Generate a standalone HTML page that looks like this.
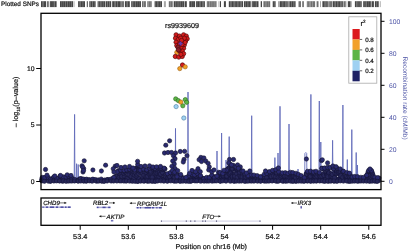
<!DOCTYPE html>
<html><head><meta charset="utf-8"><style>
html,body{margin:0;padding:0;background:#fff;width:410px;height:251px;overflow:hidden}
svg{display:block;will-change:transform}
text{text-rendering:geometricPrecision;stroke:#111;stroke-width:.2}
text.bl{stroke:none}
circle{stroke-width:.5}
.n{fill:#2a2a70;stroke:#15152e;stroke-width:.6}
.k{fill:#272758;stroke:#15153a;stroke-width:.6}
.r{fill:#d41c1c;stroke:#5a0808;stroke-width:.7}
.m{fill:#8a1f2a;stroke:#4a0a10;stroke-width:.6}
.o{fill:#f0a028;stroke:#9a5a08;stroke-width:.6}
.g{fill:#5db446;stroke:#2a6a20;stroke-width:.6}
.b{fill:#9fd1f2;stroke:#4a7aa0;stroke-width:.6}
</style></head><body>
<svg width="410" height="251" viewBox="0 0 410 251">
<rect width="410" height="251" fill="#fff"/>
<rect x="41" y="1.2" width="5.00" height="5.9" fill="#454545"/>
<rect x="42.04" y="1.2" width="0.45" height="5.9" fill="#fff" fill-opacity="0.44"/>
<rect x="43.56" y="1.2" width="0.45" height="5.9" fill="#fff" fill-opacity="0.46"/>
<rect x="46.8" y="1.2" width="2.00" height="5.9" fill="#707070"/>
<rect x="49.8" y="1.2" width="6.80" height="5.9" fill="#454545"/>
<rect x="50.67" y="1.2" width="0.45" height="5.9" fill="#fff" fill-opacity="0.25"/>
<rect x="52.84" y="1.2" width="0.45" height="5.9" fill="#fff" fill-opacity="0.34"/>
<rect x="54.17" y="1.2" width="0.45" height="5.9" fill="#fff" fill-opacity="0.60"/>
<rect x="60" y="1.2" width="13.00" height="5.9" fill="#454545"/>
<rect x="61.64" y="1.2" width="0.45" height="5.9" fill="#fff" fill-opacity="0.42"/>
<rect x="63.53" y="1.2" width="0.45" height="5.9" fill="#fff" fill-opacity="0.30"/>
<rect x="65.42" y="1.2" width="0.45" height="5.9" fill="#fff" fill-opacity="0.55"/>
<rect x="67.15" y="1.2" width="0.45" height="5.9" fill="#fff" fill-opacity="0.51"/>
<rect x="69.09" y="1.2" width="0.45" height="5.9" fill="#fff" fill-opacity="0.27"/>
<rect x="71.15" y="1.2" width="0.45" height="5.9" fill="#fff" fill-opacity="0.46"/>
<rect x="73.5" y="1.2" width="1.00" height="5.9" fill="#a8a8a8"/>
<rect x="78" y="1.2" width="7.00" height="5.9" fill="#454545"/>
<rect x="78.83" y="1.2" width="0.45" height="5.9" fill="#fff" fill-opacity="0.55"/>
<rect x="80.49" y="1.2" width="0.45" height="5.9" fill="#fff" fill-opacity="0.50"/>
<rect x="82.72" y="1.2" width="0.45" height="5.9" fill="#fff" fill-opacity="0.50"/>
<rect x="86.8" y="1.2" width="1.00" height="5.9" fill="#454545"/>
<rect x="89.3" y="1.2" width="6.30" height="5.9" fill="#454545"/>
<rect x="90.49" y="1.2" width="0.45" height="5.9" fill="#fff" fill-opacity="0.53"/>
<rect x="92.12" y="1.2" width="0.45" height="5.9" fill="#fff" fill-opacity="0.58"/>
<rect x="94.35" y="1.2" width="0.45" height="5.9" fill="#fff" fill-opacity="0.28"/>
<rect x="97.6" y="1.2" width="7.80" height="5.9" fill="#454545"/>
<rect x="98.62" y="1.2" width="0.45" height="5.9" fill="#fff" fill-opacity="0.59"/>
<rect x="100.23" y="1.2" width="0.45" height="5.9" fill="#fff" fill-opacity="0.47"/>
<rect x="101.65" y="1.2" width="0.45" height="5.9" fill="#fff" fill-opacity="0.43"/>
<rect x="103.19" y="1.2" width="0.45" height="5.9" fill="#fff" fill-opacity="0.37"/>
<rect x="105.9" y="1.2" width="5.30" height="5.9" fill="#454545"/>
<rect x="107.28" y="1.2" width="0.45" height="5.9" fill="#fff" fill-opacity="0.57"/>
<rect x="109.24" y="1.2" width="0.45" height="5.9" fill="#fff" fill-opacity="0.58"/>
<rect x="112.2" y="1.2" width="7.80" height="5.9" fill="#454545"/>
<rect x="113.99" y="1.2" width="0.45" height="5.9" fill="#fff" fill-opacity="0.48"/>
<rect x="115.22" y="1.2" width="0.45" height="5.9" fill="#fff" fill-opacity="0.55"/>
<rect x="117.57" y="1.2" width="0.45" height="5.9" fill="#fff" fill-opacity="0.57"/>
<rect x="120" y="1.2" width="4.00" height="5.9" fill="#707070"/>
<rect x="121.51" y="1.2" width="0.45" height="5.9" fill="#fff" fill-opacity="0.32"/>
<rect x="124.9" y="1.2" width="4.90" height="5.9" fill="#454545"/>
<rect x="126.27" y="1.2" width="0.45" height="5.9" fill="#fff" fill-opacity="0.35"/>
<rect x="127.36" y="1.2" width="0.45" height="5.9" fill="#fff" fill-opacity="0.55"/>
<rect x="131.2" y="1.2" width="9.80" height="5.9" fill="#454545"/>
<rect x="132.09" y="1.2" width="0.45" height="5.9" fill="#fff" fill-opacity="0.53"/>
<rect x="133.66" y="1.2" width="0.45" height="5.9" fill="#fff" fill-opacity="0.30"/>
<rect x="135.07" y="1.2" width="0.45" height="5.9" fill="#fff" fill-opacity="0.52"/>
<rect x="137.30" y="1.2" width="0.45" height="5.9" fill="#fff" fill-opacity="0.27"/>
<rect x="139.16" y="1.2" width="0.45" height="5.9" fill="#fff" fill-opacity="0.27"/>
<rect x="142" y="1.2" width="3.90" height="5.9" fill="#707070"/>
<rect x="143.13" y="1.2" width="0.45" height="5.9" fill="#fff" fill-opacity="0.56"/>
<rect x="147.3" y="1.2" width="4.40" height="5.9" fill="#707070"/>
<rect x="148.61" y="1.2" width="0.45" height="5.9" fill="#fff" fill-opacity="0.60"/>
<rect x="150.04" y="1.2" width="0.45" height="5.9" fill="#fff" fill-opacity="0.28"/>
<rect x="154.6" y="1.2" width="7.40" height="5.9" fill="#454545"/>
<rect x="155.43" y="1.2" width="0.45" height="5.9" fill="#fff" fill-opacity="0.32"/>
<rect x="157.00" y="1.2" width="0.45" height="5.9" fill="#fff" fill-opacity="0.46"/>
<rect x="158.22" y="1.2" width="0.45" height="5.9" fill="#fff" fill-opacity="0.26"/>
<rect x="160.44" y="1.2" width="0.45" height="5.9" fill="#fff" fill-opacity="0.36"/>
<rect x="163.9" y="1.2" width="2.00" height="5.9" fill="#a8a8a8"/>
<rect x="168.8" y="1.2" width="3.90" height="5.9" fill="#707070"/>
<rect x="170.50" y="1.2" width="0.45" height="5.9" fill="#fff" fill-opacity="0.38"/>
<rect x="173.7" y="1.2" width="10.70" height="5.9" fill="#454545"/>
<rect x="175.02" y="1.2" width="0.45" height="5.9" fill="#fff" fill-opacity="0.48"/>
<rect x="176.85" y="1.2" width="0.45" height="5.9" fill="#fff" fill-opacity="0.45"/>
<rect x="178.72" y="1.2" width="0.45" height="5.9" fill="#fff" fill-opacity="0.58"/>
<rect x="180.43" y="1.2" width="0.45" height="5.9" fill="#fff" fill-opacity="0.40"/>
<rect x="182.44" y="1.2" width="0.45" height="5.9" fill="#fff" fill-opacity="0.33"/>
<rect x="184.9" y="1.2" width="1.90" height="5.9" fill="#454545"/>
<rect x="189.3" y="1.2" width="5.80" height="5.9" fill="#454545"/>
<rect x="191.08" y="1.2" width="0.45" height="5.9" fill="#fff" fill-opacity="0.43"/>
<rect x="192.85" y="1.2" width="0.45" height="5.9" fill="#fff" fill-opacity="0.25"/>
<rect x="196.1" y="1.2" width="8.80" height="5.9" fill="#454545"/>
<rect x="197.48" y="1.2" width="0.45" height="5.9" fill="#fff" fill-opacity="0.26"/>
<rect x="199.34" y="1.2" width="0.45" height="5.9" fill="#fff" fill-opacity="0.47"/>
<rect x="200.43" y="1.2" width="0.45" height="5.9" fill="#fff" fill-opacity="0.47"/>
<rect x="202.08" y="1.2" width="0.45" height="5.9" fill="#fff" fill-opacity="0.49"/>
<rect x="203.57" y="1.2" width="0.45" height="5.9" fill="#fff" fill-opacity="0.50"/>
<rect x="206.8" y="1.2" width="9.80" height="5.9" fill="#707070"/>
<rect x="207.62" y="1.2" width="0.45" height="5.9" fill="#fff" fill-opacity="0.27"/>
<rect x="209.57" y="1.2" width="0.45" height="5.9" fill="#fff" fill-opacity="0.59"/>
<rect x="210.92" y="1.2" width="0.45" height="5.9" fill="#fff" fill-opacity="0.41"/>
<rect x="212.75" y="1.2" width="0.45" height="5.9" fill="#fff" fill-opacity="0.36"/>
<rect x="214.26" y="1.2" width="0.45" height="5.9" fill="#fff" fill-opacity="0.36"/>
<rect x="215.78" y="1.2" width="0.45" height="5.9" fill="#fff" fill-opacity="0.46"/>
<rect x="218.5" y="1.2" width="1.00" height="5.9" fill="#a8a8a8"/>
<rect x="220" y="1.2" width="1.00" height="5.9" fill="#454545"/>
<rect x="223.9" y="1.2" width="2.00" height="5.9" fill="#454545"/>
<rect x="228.8" y="1.2" width="14.20" height="5.9" fill="#454545"/>
<rect x="229.98" y="1.2" width="0.45" height="5.9" fill="#fff" fill-opacity="0.52"/>
<rect x="231.01" y="1.2" width="0.45" height="5.9" fill="#fff" fill-opacity="0.45"/>
<rect x="233.04" y="1.2" width="0.45" height="5.9" fill="#fff" fill-opacity="0.36"/>
<rect x="234.36" y="1.2" width="0.45" height="5.9" fill="#fff" fill-opacity="0.53"/>
<rect x="235.69" y="1.2" width="0.45" height="5.9" fill="#fff" fill-opacity="0.32"/>
<rect x="237.30" y="1.2" width="0.45" height="5.9" fill="#fff" fill-opacity="0.49"/>
<rect x="238.44" y="1.2" width="0.45" height="5.9" fill="#fff" fill-opacity="0.36"/>
<rect x="239.91" y="1.2" width="0.45" height="5.9" fill="#fff" fill-opacity="0.54"/>
<rect x="241.52" y="1.2" width="0.45" height="5.9" fill="#fff" fill-opacity="0.55"/>
<rect x="243.9" y="1.2" width="6.80" height="5.9" fill="#454545"/>
<rect x="245.04" y="1.2" width="0.45" height="5.9" fill="#fff" fill-opacity="0.48"/>
<rect x="247.28" y="1.2" width="0.45" height="5.9" fill="#fff" fill-opacity="0.41"/>
<rect x="248.59" y="1.2" width="0.45" height="5.9" fill="#fff" fill-opacity="0.29"/>
<rect x="251.7" y="1.2" width="6.80" height="5.9" fill="#454545"/>
<rect x="252.69" y="1.2" width="0.45" height="5.9" fill="#fff" fill-opacity="0.53"/>
<rect x="254.86" y="1.2" width="0.45" height="5.9" fill="#fff" fill-opacity="0.31"/>
<rect x="256.25" y="1.2" width="0.45" height="5.9" fill="#fff" fill-opacity="0.53"/>
<rect x="260.7" y="1.2" width="1.30" height="5.9" fill="#454545"/>
<rect x="263.4" y="1.2" width="6.80" height="5.9" fill="#707070"/>
<rect x="265.01" y="1.2" width="0.45" height="5.9" fill="#fff" fill-opacity="0.37"/>
<rect x="266.19" y="1.2" width="0.45" height="5.9" fill="#fff" fill-opacity="0.35"/>
<rect x="268.30" y="1.2" width="0.45" height="5.9" fill="#fff" fill-opacity="0.34"/>
<rect x="272.7" y="1.2" width="2.90" height="5.9" fill="#454545"/>
<rect x="273.92" y="1.2" width="0.45" height="5.9" fill="#fff" fill-opacity="0.40"/>
<rect x="278" y="1.2" width="2.00" height="5.9" fill="#a8a8a8"/>
<rect x="280" y="1.2" width="6.80" height="5.9" fill="#454545"/>
<rect x="281.72" y="1.2" width="0.45" height="5.9" fill="#fff" fill-opacity="0.30"/>
<rect x="282.73" y="1.2" width="0.45" height="5.9" fill="#fff" fill-opacity="0.58"/>
<rect x="284.96" y="1.2" width="0.45" height="5.9" fill="#fff" fill-opacity="0.60"/>
<rect x="286.8" y="1.2" width="3.00" height="5.9" fill="#707070"/>
<rect x="288.55" y="1.2" width="0.45" height="5.9" fill="#fff" fill-opacity="0.57"/>
<rect x="289.8" y="1.2" width="5.80" height="5.9" fill="#454545"/>
<rect x="291.35" y="1.2" width="0.45" height="5.9" fill="#fff" fill-opacity="0.54"/>
<rect x="293.27" y="1.2" width="0.45" height="5.9" fill="#fff" fill-opacity="0.43"/>
<rect x="294.68" y="1.2" width="0.45" height="5.9" fill="#fff" fill-opacity="0.37"/>
<rect x="298.5" y="1.2" width="2.50" height="5.9" fill="#707070"/>
<rect x="302.2" y="1.2" width="1.70" height="5.9" fill="#707070"/>
<rect x="306.8" y="1.2" width="8.30" height="5.9" fill="#707070"/>
<rect x="307.67" y="1.2" width="0.45" height="5.9" fill="#fff" fill-opacity="0.46"/>
<rect x="309.07" y="1.2" width="0.45" height="5.9" fill="#fff" fill-opacity="0.53"/>
<rect x="310.13" y="1.2" width="0.45" height="5.9" fill="#fff" fill-opacity="0.57"/>
<rect x="312.10" y="1.2" width="0.45" height="5.9" fill="#fff" fill-opacity="0.57"/>
<rect x="316.6" y="1.2" width="1.90" height="5.9" fill="#707070"/>
<rect x="320" y="1.2" width="1.00" height="5.9" fill="#a8a8a8"/>
<rect x="322.4" y="1.2" width="5.40" height="5.9" fill="#454545"/>
<rect x="324.10" y="1.2" width="0.45" height="5.9" fill="#fff" fill-opacity="0.45"/>
<rect x="325.12" y="1.2" width="0.45" height="5.9" fill="#fff" fill-opacity="0.51"/>
<rect x="326.36" y="1.2" width="0.45" height="5.9" fill="#fff" fill-opacity="0.35"/>
<rect x="328.3" y="1.2" width="3.90" height="5.9" fill="#707070"/>
<rect x="329.62" y="1.2" width="0.45" height="5.9" fill="#fff" fill-opacity="0.39"/>
<rect x="332.7" y="1.2" width="10.20" height="5.9" fill="#454545"/>
<rect x="334.11" y="1.2" width="0.45" height="5.9" fill="#fff" fill-opacity="0.37"/>
<rect x="335.47" y="1.2" width="0.45" height="5.9" fill="#fff" fill-opacity="0.55"/>
<rect x="337.13" y="1.2" width="0.45" height="5.9" fill="#fff" fill-opacity="0.52"/>
<rect x="338.63" y="1.2" width="0.45" height="5.9" fill="#fff" fill-opacity="0.32"/>
<rect x="340.37" y="1.2" width="0.45" height="5.9" fill="#fff" fill-opacity="0.54"/>
<rect x="341.61" y="1.2" width="0.45" height="5.9" fill="#fff" fill-opacity="0.53"/>
<rect x="343.4" y="1.2" width="2.90" height="5.9" fill="#707070"/>
<rect x="345.01" y="1.2" width="0.45" height="5.9" fill="#fff" fill-opacity="0.54"/>
<rect x="347.8" y="1.2" width="2.40" height="5.9" fill="#454545"/>
<rect x="350.2" y="1.2" width="1.30" height="5.9" fill="#707070"/>
<rect x="354.9" y="1.2" width="6.80" height="5.9" fill="#454545"/>
<rect x="356.33" y="1.2" width="0.45" height="5.9" fill="#fff" fill-opacity="0.55"/>
<rect x="357.40" y="1.2" width="0.45" height="5.9" fill="#fff" fill-opacity="0.34"/>
<rect x="358.77" y="1.2" width="0.45" height="5.9" fill="#fff" fill-opacity="0.43"/>
<rect x="360.37" y="1.2" width="0.45" height="5.9" fill="#fff" fill-opacity="0.42"/>
<rect x="363.2" y="1.2" width="7.80" height="5.9" fill="#454545"/>
<rect x="364.00" y="1.2" width="0.45" height="5.9" fill="#fff" fill-opacity="0.27"/>
<rect x="365.18" y="1.2" width="0.45" height="5.9" fill="#fff" fill-opacity="0.29"/>
<rect x="366.28" y="1.2" width="0.45" height="5.9" fill="#fff" fill-opacity="0.59"/>
<rect x="368.47" y="1.2" width="0.45" height="5.9" fill="#fff" fill-opacity="0.28"/>
<rect x="370.17" y="1.2" width="0.45" height="5.9" fill="#fff" fill-opacity="0.36"/>
<rect x="371.5" y="1.2" width="2.40" height="5.9" fill="#454545"/>
<rect x="374.9" y="1.2" width="3.90" height="5.9" fill="#454545"/>
<rect x="376.05" y="1.2" width="0.45" height="5.9" fill="#fff" fill-opacity="0.48"/>
<rect x="377.87" y="1.2" width="0.45" height="5.9" fill="#fff" fill-opacity="0.38"/>
<rect x="379.8" y="1.2" width="0.90" height="5.9" fill="#a8a8a8"/>
<text x="1" y="6.4" font-size="6.4" font-family="Liberation Sans, sans-serif" fill="#111">Plotted SNPs</text>
<polyline fill="none" stroke="#5f69b8" stroke-width="0.9" stroke-opacity="0.95" points="41.0,179.5 74.2,179.5 74.6,114.4 74.9,179.5 76.2,179.5 76.6,163.7 76.9,179.5 77.9,179.5 78.2,164.5 78.5,179.5 175.2,179.5 175.5,128.4 175.8,179.5 187.7,179.5 188.0,92.0 188.3,179.5 216.7,179.5 217.0,151.0 217.3,179.5 221.2,179.5 221.6,133.0 221.9,179.5 225.7,179.5 226.0,160.0 226.3,179.5 228.8,179.5 229.2,136.6 229.5,179.5 251.3,179.5 251.7,115.7 252.0,179.5 274.5,179.5 274.9,157.6 275.2,179.5 277.6,179.5 278.0,153.0 278.4,179.5 279.6,179.5 280.0,106.3 280.4,179.5 288.6,179.5 289.0,124.0 289.4,179.5 297.6,179.5 298.0,169.0 298.4,179.5 304.7,179.5 304.9,153.5 305.8,152.5 306.7,153.5 306.9,179.5 310.5,179.5 310.9,94.4 311.2,179.5 318.9,179.5 319.3,101.0 319.7,179.5 320.4,179.5 320.8,142.0 321.2,179.5 332.2,179.5 332.6,140.3 333.0,179.5 342.5,179.5 342.9,105.0 343.2,179.5 346.9,179.5 347.3,159.5 347.7,179.5 351.4,179.5 351.8,129.6 352.2,179.5 355.8,179.5 356.2,152.5 356.6,179.5 357.0,179.5 357.4,165.0 357.8,179.5 381.0,179.5"/>
<circle class="k" cx="41.9" cy="178.9" r="2.15"/>
<circle class="k" cx="41.8" cy="180.1" r="2.15"/>
<circle class="k" cx="43.8" cy="179.7" r="2.15"/>
<circle class="k" cx="44.0" cy="178.0" r="2.15"/>
<circle class="k" cx="45.6" cy="177.9" r="2.15"/>
<circle class="k" cx="45.2" cy="178.0" r="2.15"/>
<circle class="k" cx="47.8" cy="179.3" r="2.15"/>
<circle class="k" cx="47.1" cy="178.2" r="2.15"/>
<circle class="k" cx="49.6" cy="180.3" r="2.15"/>
<circle class="k" cx="49.0" cy="180.1" r="2.15"/>
<circle class="k" cx="50.3" cy="181.2" r="2.15"/>
<circle class="k" cx="50.5" cy="180.9" r="2.15"/>
<circle class="k" cx="52.0" cy="178.6" r="2.15"/>
<circle class="k" cx="52.9" cy="179.1" r="2.15"/>
<circle class="k" cx="54.3" cy="178.4" r="2.15"/>
<circle class="k" cx="54.0" cy="180.0" r="2.15"/>
<circle class="k" cx="55.4" cy="179.7" r="2.15"/>
<circle class="k" cx="55.5" cy="178.0" r="2.15"/>
<circle class="k" cx="57.5" cy="180.3" r="2.15"/>
<circle class="k" cx="57.7" cy="179.1" r="2.15"/>
<circle class="k" cx="59.1" cy="179.4" r="2.15"/>
<circle class="k" cx="59.5" cy="180.6" r="2.15"/>
<circle class="k" cx="61.1" cy="178.7" r="2.15"/>
<circle class="k" cx="61.5" cy="179.6" r="2.15"/>
<circle class="k" cx="62.4" cy="180.4" r="2.15"/>
<circle class="k" cx="62.2" cy="181.2" r="2.15"/>
<circle class="k" cx="64.7" cy="179.3" r="2.15"/>
<circle class="k" cx="64.4" cy="178.3" r="2.15"/>
<circle class="k" cx="66.3" cy="177.9" r="2.15"/>
<circle class="k" cx="66.2" cy="180.5" r="2.15"/>
<circle class="k" cx="67.6" cy="180.9" r="2.15"/>
<circle class="k" cx="67.9" cy="180.2" r="2.15"/>
<circle class="k" cx="69.4" cy="179.8" r="2.15"/>
<circle class="k" cx="70.0" cy="180.7" r="2.15"/>
<circle class="k" cx="71.4" cy="179.5" r="2.15"/>
<circle class="k" cx="71.4" cy="178.0" r="2.15"/>
<circle class="k" cx="73.5" cy="180.1" r="2.15"/>
<circle class="k" cx="72.6" cy="180.7" r="2.15"/>
<circle class="k" cx="74.8" cy="180.3" r="2.15"/>
<circle class="k" cx="76.3" cy="180.3" r="2.15"/>
<circle class="k" cx="77.5" cy="180.5" r="2.15"/>
<circle class="k" cx="80.0" cy="178.9" r="2.15"/>
<circle class="k" cx="79.4" cy="179.1" r="2.15"/>
<circle class="k" cx="81.8" cy="179.5" r="2.15"/>
<circle class="k" cx="81.3" cy="178.7" r="2.15"/>
<circle class="k" cx="83.6" cy="180.2" r="2.15"/>
<circle class="k" cx="83.5" cy="180.9" r="2.15"/>
<circle class="k" cx="84.7" cy="179.8" r="2.15"/>
<circle class="k" cx="85.3" cy="180.0" r="2.15"/>
<circle class="k" cx="86.1" cy="181.2" r="2.15"/>
<circle class="k" cx="87.9" cy="179.8" r="2.15"/>
<circle class="k" cx="89.9" cy="179.9" r="2.15"/>
<circle class="k" cx="91.3" cy="180.6" r="2.15"/>
<circle class="k" cx="93.2" cy="179.5" r="2.15"/>
<circle class="k" cx="95.1" cy="180.2" r="2.15"/>
<circle class="k" cx="96.9" cy="181.2" r="2.15"/>
<circle class="k" cx="98.5" cy="180.4" r="2.15"/>
<circle class="k" cx="99.6" cy="180.7" r="2.15"/>
<circle class="k" cx="102.1" cy="181.1" r="2.15"/>
<circle class="k" cx="103.9" cy="181.1" r="2.15"/>
<circle class="k" cx="105.1" cy="180.2" r="2.15"/>
<circle class="k" cx="107.1" cy="179.7" r="2.15"/>
<circle class="k" cx="108.1" cy="179.6" r="2.15"/>
<circle class="k" cx="109.9" cy="179.9" r="2.15"/>
<circle class="k" cx="111.5" cy="180.1" r="2.15"/>
<circle class="k" cx="113.3" cy="178.1" r="2.15"/>
<circle class="k" cx="113.5" cy="178.4" r="2.15"/>
<circle class="k" cx="115.8" cy="177.9" r="2.15"/>
<circle class="k" cx="115.0" cy="179.9" r="2.15"/>
<circle class="k" cx="116.9" cy="178.7" r="2.15"/>
<circle class="k" cx="116.6" cy="179.1" r="2.15"/>
<circle class="k" cx="119.4" cy="180.8" r="2.15"/>
<circle class="k" cx="118.8" cy="179.4" r="2.15"/>
<circle class="k" cx="120.0" cy="178.1" r="2.15"/>
<circle class="k" cx="120.2" cy="179.0" r="2.15"/>
<circle class="k" cx="121.8" cy="180.7" r="2.15"/>
<circle class="k" cx="122.7" cy="177.9" r="2.15"/>
<circle class="k" cx="123.5" cy="179.6" r="2.15"/>
<circle class="k" cx="123.3" cy="179.7" r="2.15"/>
<circle class="k" cx="126.2" cy="179.6" r="2.15"/>
<circle class="k" cx="125.8" cy="180.8" r="2.15"/>
<circle class="k" cx="127.1" cy="178.7" r="2.15"/>
<circle class="k" cx="127.6" cy="178.4" r="2.15"/>
<circle class="k" cx="129.3" cy="179.7" r="2.15"/>
<circle class="k" cx="128.7" cy="179.0" r="2.15"/>
<circle class="k" cx="131.3" cy="180.6" r="2.15"/>
<circle class="k" cx="131.1" cy="180.8" r="2.15"/>
<circle class="k" cx="132.7" cy="180.7" r="2.15"/>
<circle class="k" cx="132.4" cy="178.6" r="2.15"/>
<circle class="k" cx="133.5" cy="179.0" r="2.15"/>
<circle class="k" cx="133.8" cy="177.9" r="2.15"/>
<circle class="k" cx="136.0" cy="178.7" r="2.15"/>
<circle class="k" cx="135.7" cy="181.1" r="2.15"/>
<circle class="k" cx="138.1" cy="181.1" r="2.15"/>
<circle class="k" cx="137.3" cy="181.1" r="2.15"/>
<circle class="k" cx="138.9" cy="178.6" r="2.15"/>
<circle class="k" cx="138.8" cy="178.5" r="2.15"/>
<circle class="k" cx="141.4" cy="180.0" r="2.15"/>
<circle class="k" cx="140.9" cy="180.7" r="2.15"/>
<circle class="k" cx="143.0" cy="180.1" r="2.15"/>
<circle class="k" cx="142.8" cy="178.1" r="2.15"/>
<circle class="k" cx="144.6" cy="181.0" r="2.15"/>
<circle class="k" cx="144.3" cy="180.4" r="2.15"/>
<circle class="k" cx="146.3" cy="178.4" r="2.15"/>
<circle class="k" cx="146.4" cy="179.0" r="2.15"/>
<circle class="k" cx="147.6" cy="181.2" r="2.15"/>
<circle class="k" cx="148.2" cy="179.2" r="2.15"/>
<circle class="k" cx="149.0" cy="180.3" r="2.15"/>
<circle class="k" cx="149.0" cy="178.2" r="2.15"/>
<circle class="k" cx="151.5" cy="181.0" r="2.15"/>
<circle class="k" cx="151.5" cy="178.3" r="2.15"/>
<circle class="k" cx="153.0" cy="181.2" r="2.15"/>
<circle class="k" cx="152.9" cy="179.0" r="2.15"/>
<circle class="k" cx="153.9" cy="178.3" r="2.15"/>
<circle class="k" cx="154.7" cy="181.2" r="2.15"/>
<circle class="k" cx="156.7" cy="179.6" r="2.15"/>
<circle class="k" cx="156.6" cy="179.3" r="2.15"/>
<circle class="k" cx="157.6" cy="180.7" r="2.15"/>
<circle class="k" cx="157.7" cy="178.7" r="2.15"/>
<circle class="k" cx="159.7" cy="178.6" r="2.15"/>
<circle class="k" cx="159.5" cy="178.7" r="2.15"/>
<circle class="k" cx="161.8" cy="178.3" r="2.15"/>
<circle class="k" cx="161.2" cy="179.0" r="2.15"/>
<circle class="k" cx="163.5" cy="179.8" r="2.15"/>
<circle class="k" cx="163.5" cy="179.3" r="2.15"/>
<circle class="k" cx="164.7" cy="179.6" r="2.15"/>
<circle class="k" cx="164.1" cy="179.6" r="2.15"/>
<circle class="k" cx="166.0" cy="179.3" r="2.15"/>
<circle class="k" cx="166.8" cy="177.8" r="2.15"/>
<circle class="k" cx="168.1" cy="178.4" r="2.15"/>
<circle class="k" cx="168.2" cy="180.3" r="2.15"/>
<circle class="k" cx="169.8" cy="178.9" r="2.15"/>
<circle class="k" cx="170.1" cy="179.7" r="2.15"/>
<circle class="k" cx="171.6" cy="178.2" r="2.15"/>
<circle class="k" cx="171.2" cy="178.7" r="2.15"/>
<circle class="k" cx="173.2" cy="180.5" r="2.15"/>
<circle class="k" cx="173.5" cy="179.8" r="2.15"/>
<circle class="k" cx="174.8" cy="181.0" r="2.15"/>
<circle class="k" cx="174.9" cy="179.9" r="2.15"/>
<circle class="k" cx="176.8" cy="179.6" r="2.15"/>
<circle class="k" cx="176.6" cy="179.4" r="2.15"/>
<circle class="k" cx="178.8" cy="179.5" r="2.15"/>
<circle class="k" cx="178.8" cy="180.2" r="2.15"/>
<circle class="k" cx="179.7" cy="181.1" r="2.15"/>
<circle class="k" cx="180.5" cy="179.8" r="2.15"/>
<circle class="k" cx="181.3" cy="180.7" r="2.15"/>
<circle class="k" cx="181.6" cy="178.2" r="2.15"/>
<circle class="k" cx="183.1" cy="178.1" r="2.15"/>
<circle class="k" cx="183.6" cy="178.1" r="2.15"/>
<circle class="k" cx="185.6" cy="180.7" r="2.15"/>
<circle class="k" cx="185.4" cy="178.9" r="2.15"/>
<circle class="k" cx="186.4" cy="180.2" r="2.15"/>
<circle class="k" cx="187.4" cy="180.9" r="2.15"/>
<circle class="k" cx="189.0" cy="178.6" r="2.15"/>
<circle class="k" cx="188.5" cy="179.2" r="2.15"/>
<circle class="k" cx="190.6" cy="181.3" r="2.15"/>
<circle class="k" cx="190.1" cy="178.4" r="2.15"/>
<circle class="k" cx="191.7" cy="179.6" r="2.15"/>
<circle class="k" cx="191.7" cy="178.5" r="2.15"/>
<circle class="k" cx="193.0" cy="180.3" r="2.15"/>
<circle class="k" cx="193.5" cy="179.7" r="2.15"/>
<circle class="k" cx="195.1" cy="177.9" r="2.15"/>
<circle class="k" cx="195.3" cy="180.0" r="2.15"/>
<circle class="k" cx="197.6" cy="178.0" r="2.15"/>
<circle class="k" cx="197.6" cy="180.6" r="2.15"/>
<circle class="k" cx="198.4" cy="178.2" r="2.15"/>
<circle class="k" cx="199.0" cy="177.9" r="2.15"/>
<circle class="k" cx="200.0" cy="178.7" r="2.15"/>
<circle class="k" cx="200.9" cy="179.3" r="2.15"/>
<circle class="k" cx="201.8" cy="180.7" r="2.15"/>
<circle class="k" cx="202.6" cy="178.3" r="2.15"/>
<circle class="k" cx="204.0" cy="180.1" r="2.15"/>
<circle class="k" cx="203.3" cy="178.8" r="2.15"/>
<circle class="k" cx="205.4" cy="180.4" r="2.15"/>
<circle class="k" cx="206.0" cy="178.6" r="2.15"/>
<circle class="k" cx="207.6" cy="180.1" r="2.15"/>
<circle class="k" cx="207.6" cy="178.3" r="2.15"/>
<circle class="k" cx="209.3" cy="178.0" r="2.15"/>
<circle class="k" cx="208.7" cy="179.4" r="2.15"/>
<circle class="k" cx="211.1" cy="179.7" r="2.15"/>
<circle class="k" cx="210.2" cy="178.7" r="2.15"/>
<circle class="k" cx="212.0" cy="179.6" r="2.15"/>
<circle class="k" cx="211.9" cy="178.2" r="2.15"/>
<circle class="k" cx="213.6" cy="178.0" r="2.15"/>
<circle class="k" cx="213.8" cy="178.9" r="2.15"/>
<circle class="k" cx="215.4" cy="180.5" r="2.15"/>
<circle class="k" cx="215.3" cy="179.6" r="2.15"/>
<circle class="k" cx="216.8" cy="179.0" r="2.15"/>
<circle class="k" cx="216.8" cy="178.7" r="2.15"/>
<circle class="k" cx="219.2" cy="180.4" r="2.15"/>
<circle class="k" cx="219.1" cy="178.5" r="2.15"/>
<circle class="k" cx="220.3" cy="181.1" r="2.15"/>
<circle class="k" cx="220.7" cy="180.7" r="2.15"/>
<circle class="k" cx="222.9" cy="179.5" r="2.15"/>
<circle class="k" cx="222.5" cy="179.2" r="2.15"/>
<circle class="k" cx="224.8" cy="180.2" r="2.15"/>
<circle class="k" cx="224.6" cy="179.0" r="2.15"/>
<circle class="k" cx="226.1" cy="180.3" r="2.15"/>
<circle class="k" cx="225.7" cy="179.2" r="2.15"/>
<circle class="k" cx="227.2" cy="178.0" r="2.15"/>
<circle class="k" cx="227.9" cy="178.0" r="2.15"/>
<circle class="k" cx="228.9" cy="178.7" r="2.15"/>
<circle class="k" cx="229.7" cy="178.1" r="2.15"/>
<circle class="k" cx="231.2" cy="180.8" r="2.15"/>
<circle class="k" cx="230.7" cy="178.8" r="2.15"/>
<circle class="k" cx="232.7" cy="178.8" r="2.15"/>
<circle class="k" cx="232.6" cy="178.4" r="2.15"/>
<circle class="k" cx="235.0" cy="178.7" r="2.15"/>
<circle class="k" cx="234.5" cy="181.2" r="2.15"/>
<circle class="k" cx="236.7" cy="178.7" r="2.15"/>
<circle class="k" cx="235.9" cy="178.9" r="2.15"/>
<circle class="k" cx="237.7" cy="177.8" r="2.15"/>
<circle class="k" cx="237.8" cy="179.5" r="2.15"/>
<circle class="k" cx="239.5" cy="178.5" r="2.15"/>
<circle class="k" cx="239.2" cy="177.8" r="2.15"/>
<circle class="k" cx="241.1" cy="178.1" r="2.15"/>
<circle class="k" cx="240.6" cy="177.9" r="2.15"/>
<circle class="k" cx="242.6" cy="178.9" r="2.15"/>
<circle class="k" cx="242.9" cy="179.8" r="2.15"/>
<circle class="k" cx="244.8" cy="180.4" r="2.15"/>
<circle class="k" cx="245.1" cy="180.3" r="2.15"/>
<circle class="k" cx="246.1" cy="179.2" r="2.15"/>
<circle class="k" cx="245.9" cy="181.2" r="2.15"/>
<circle class="k" cx="248.2" cy="180.3" r="2.15"/>
<circle class="k" cx="248.4" cy="178.0" r="2.15"/>
<circle class="k" cx="249.9" cy="180.9" r="2.15"/>
<circle class="k" cx="250.1" cy="180.4" r="2.15"/>
<circle class="k" cx="251.4" cy="178.3" r="2.15"/>
<circle class="k" cx="251.8" cy="179.6" r="2.15"/>
<circle class="k" cx="253.5" cy="180.6" r="2.15"/>
<circle class="k" cx="253.6" cy="179.8" r="2.15"/>
<circle class="k" cx="255.0" cy="180.2" r="2.15"/>
<circle class="k" cx="254.2" cy="178.6" r="2.15"/>
<circle class="k" cx="256.3" cy="178.3" r="2.15"/>
<circle class="k" cx="256.9" cy="178.2" r="2.15"/>
<circle class="k" cx="258.4" cy="179.8" r="2.15"/>
<circle class="k" cx="258.4" cy="180.0" r="2.15"/>
<circle class="k" cx="259.3" cy="179.5" r="2.15"/>
<circle class="k" cx="260.2" cy="180.6" r="2.15"/>
<circle class="k" cx="261.6" cy="179.6" r="2.15"/>
<circle class="k" cx="261.1" cy="180.1" r="2.15"/>
<circle class="k" cx="263.0" cy="180.4" r="2.15"/>
<circle class="k" cx="263.0" cy="178.1" r="2.15"/>
<circle class="k" cx="264.6" cy="180.4" r="2.15"/>
<circle class="k" cx="265.6" cy="180.4" r="2.15"/>
<circle class="k" cx="266.6" cy="179.5" r="2.15"/>
<circle class="k" cx="266.9" cy="179.5" r="2.15"/>
<circle class="k" cx="268.5" cy="180.5" r="2.15"/>
<circle class="k" cx="267.9" cy="180.0" r="2.15"/>
<circle class="k" cx="269.8" cy="178.3" r="2.15"/>
<circle class="k" cx="269.9" cy="180.4" r="2.15"/>
<circle class="k" cx="271.2" cy="179.8" r="2.15"/>
<circle class="k" cx="271.5" cy="178.0" r="2.15"/>
<circle class="k" cx="273.7" cy="180.2" r="2.15"/>
<circle class="k" cx="273.2" cy="180.2" r="2.15"/>
<circle class="k" cx="275.2" cy="179.6" r="2.15"/>
<circle class="k" cx="274.7" cy="179.4" r="2.15"/>
<circle class="k" cx="276.5" cy="180.9" r="2.15"/>
<circle class="k" cx="277.4" cy="181.2" r="2.15"/>
<circle class="k" cx="278.6" cy="177.9" r="2.15"/>
<circle class="k" cx="279.2" cy="180.7" r="2.15"/>
<circle class="k" cx="280.0" cy="179.4" r="2.15"/>
<circle class="k" cx="280.8" cy="178.5" r="2.15"/>
<circle class="k" cx="282.1" cy="178.5" r="2.15"/>
<circle class="k" cx="282.0" cy="178.3" r="2.15"/>
<circle class="k" cx="283.3" cy="181.1" r="2.15"/>
<circle class="k" cx="283.7" cy="180.7" r="2.15"/>
<circle class="k" cx="285.6" cy="180.9" r="2.15"/>
<circle class="k" cx="285.9" cy="178.6" r="2.15"/>
<circle class="k" cx="286.5" cy="179.5" r="2.15"/>
<circle class="k" cx="287.1" cy="177.8" r="2.15"/>
<circle class="k" cx="288.6" cy="179.4" r="2.15"/>
<circle class="k" cx="288.6" cy="178.3" r="2.15"/>
<circle class="k" cx="290.9" cy="178.9" r="2.15"/>
<circle class="k" cx="290.8" cy="177.8" r="2.15"/>
<circle class="k" cx="291.7" cy="180.7" r="2.15"/>
<circle class="k" cx="292.5" cy="181.0" r="2.15"/>
<circle class="k" cx="293.6" cy="181.0" r="2.15"/>
<circle class="k" cx="293.8" cy="179.1" r="2.15"/>
<circle class="k" cx="295.7" cy="181.3" r="2.15"/>
<circle class="k" cx="295.5" cy="179.1" r="2.15"/>
<circle class="k" cx="296.8" cy="178.8" r="2.15"/>
<circle class="k" cx="297.7" cy="178.2" r="2.15"/>
<circle class="k" cx="299.5" cy="178.8" r="2.15"/>
<circle class="k" cx="298.7" cy="178.7" r="2.15"/>
<circle class="k" cx="300.3" cy="179.6" r="2.15"/>
<circle class="k" cx="301.2" cy="179.1" r="2.15"/>
<circle class="k" cx="302.8" cy="180.9" r="2.15"/>
<circle class="k" cx="302.9" cy="180.0" r="2.15"/>
<circle class="k" cx="304.2" cy="181.1" r="2.15"/>
<circle class="k" cx="303.6" cy="180.3" r="2.15"/>
<circle class="k" cx="305.7" cy="180.4" r="2.15"/>
<circle class="k" cx="306.0" cy="180.4" r="2.15"/>
<circle class="k" cx="307.0" cy="178.8" r="2.15"/>
<circle class="k" cx="307.1" cy="181.0" r="2.15"/>
<circle class="k" cx="309.0" cy="179.5" r="2.15"/>
<circle class="k" cx="309.5" cy="178.8" r="2.15"/>
<circle class="k" cx="310.6" cy="181.2" r="2.15"/>
<circle class="k" cx="310.7" cy="180.1" r="2.15"/>
<circle class="k" cx="312.5" cy="179.8" r="2.15"/>
<circle class="k" cx="312.2" cy="178.4" r="2.15"/>
<circle class="k" cx="314.8" cy="178.5" r="2.15"/>
<circle class="k" cx="314.0" cy="179.5" r="2.15"/>
<circle class="k" cx="316.6" cy="181.0" r="2.15"/>
<circle class="k" cx="315.6" cy="179.4" r="2.15"/>
<circle class="k" cx="317.2" cy="178.5" r="2.15"/>
<circle class="k" cx="317.2" cy="179.0" r="2.15"/>
<circle class="k" cx="319.1" cy="178.6" r="2.15"/>
<circle class="k" cx="319.9" cy="179.8" r="2.15"/>
<circle class="k" cx="321.0" cy="180.4" r="2.15"/>
<circle class="k" cx="321.1" cy="179.2" r="2.15"/>
<circle class="k" cx="322.6" cy="179.1" r="2.15"/>
<circle class="k" cx="322.5" cy="178.0" r="2.15"/>
<circle class="k" cx="324.1" cy="181.2" r="2.15"/>
<circle class="k" cx="324.7" cy="179.6" r="2.15"/>
<circle class="k" cx="325.9" cy="180.8" r="2.15"/>
<circle class="k" cx="325.9" cy="178.7" r="2.15"/>
<circle class="k" cx="327.8" cy="179.2" r="2.15"/>
<circle class="k" cx="328.3" cy="181.1" r="2.15"/>
<circle class="k" cx="329.0" cy="180.9" r="2.15"/>
<circle class="k" cx="329.9" cy="177.9" r="2.15"/>
<circle class="k" cx="331.3" cy="180.9" r="2.15"/>
<circle class="k" cx="330.7" cy="179.9" r="2.15"/>
<circle class="k" cx="333.5" cy="179.2" r="2.15"/>
<circle class="k" cx="333.4" cy="180.7" r="2.15"/>
<circle class="k" cx="334.4" cy="181.2" r="2.15"/>
<circle class="k" cx="334.3" cy="178.2" r="2.15"/>
<circle class="k" cx="336.6" cy="179.6" r="2.15"/>
<circle class="k" cx="336.7" cy="181.1" r="2.15"/>
<circle class="k" cx="338.4" cy="180.1" r="2.15"/>
<circle class="k" cx="338.2" cy="179.4" r="2.15"/>
<circle class="k" cx="340.1" cy="177.9" r="2.15"/>
<circle class="k" cx="340.3" cy="178.6" r="2.15"/>
<circle class="k" cx="341.3" cy="180.1" r="2.15"/>
<circle class="k" cx="341.2" cy="178.2" r="2.15"/>
<circle class="k" cx="343.4" cy="180.0" r="2.15"/>
<circle class="k" cx="342.7" cy="178.2" r="2.15"/>
<circle class="k" cx="345.0" cy="179.6" r="2.15"/>
<circle class="k" cx="344.6" cy="179.2" r="2.15"/>
<circle class="k" cx="346.0" cy="179.9" r="2.15"/>
<circle class="k" cx="346.6" cy="178.9" r="2.15"/>
<circle class="k" cx="348.5" cy="181.2" r="2.15"/>
<circle class="k" cx="348.3" cy="180.9" r="2.15"/>
<circle class="k" cx="349.7" cy="178.6" r="2.15"/>
<circle class="k" cx="350.2" cy="181.2" r="2.15"/>
<circle class="k" cx="351.1" cy="178.9" r="2.15"/>
<circle class="k" cx="351.9" cy="179.5" r="2.15"/>
<circle class="k" cx="353.1" cy="179.3" r="2.15"/>
<circle class="k" cx="353.9" cy="180.1" r="2.15"/>
<circle class="k" cx="354.5" cy="178.6" r="2.15"/>
<circle class="k" cx="355.0" cy="179.0" r="2.15"/>
<circle class="k" cx="356.4" cy="180.2" r="2.15"/>
<circle class="k" cx="357.1" cy="180.6" r="2.15"/>
<circle class="k" cx="358.1" cy="179.6" r="2.15"/>
<circle class="k" cx="358.3" cy="181.2" r="2.15"/>
<circle class="k" cx="359.9" cy="180.7" r="2.15"/>
<circle class="k" cx="360.5" cy="178.6" r="2.15"/>
<circle class="k" cx="362.4" cy="178.8" r="2.15"/>
<circle class="k" cx="361.5" cy="179.5" r="2.15"/>
<circle class="k" cx="363.5" cy="178.6" r="2.15"/>
<circle class="k" cx="364.1" cy="180.1" r="2.15"/>
<circle class="k" cx="365.2" cy="178.3" r="2.15"/>
<circle class="k" cx="365.9" cy="178.5" r="2.15"/>
<circle class="k" cx="366.5" cy="178.3" r="2.15"/>
<circle class="k" cx="366.9" cy="178.0" r="2.15"/>
<circle class="k" cx="369.2" cy="180.9" r="2.15"/>
<circle class="k" cx="369.3" cy="180.4" r="2.15"/>
<circle class="k" cx="370.2" cy="181.1" r="2.15"/>
<circle class="k" cx="370.9" cy="178.4" r="2.15"/>
<circle class="k" cx="371.5" cy="180.4" r="2.15"/>
<circle class="k" cx="372.0" cy="180.1" r="2.15"/>
<circle class="k" cx="373.6" cy="179.1" r="2.15"/>
<circle class="k" cx="373.2" cy="178.4" r="2.15"/>
<circle class="k" cx="375.3" cy="178.8" r="2.15"/>
<circle class="k" cx="375.0" cy="181.1" r="2.15"/>
<circle class="k" cx="376.8" cy="181.2" r="2.15"/>
<circle class="k" cx="377.6" cy="179.0" r="2.15"/>
<circle class="k" cx="378.8" cy="180.7" r="2.15"/>
<circle class="k" cx="378.9" cy="178.0" r="2.15"/>
<circle class="k" cx="61.7" cy="177.0" r="2.15"/>
<circle class="k" cx="66.7" cy="176.4" r="2.15"/>
<circle class="k" cx="68.3" cy="177.4" r="2.15"/>
<circle class="k" cx="68.8" cy="176.5" r="2.15"/>
<circle class="k" cx="115.0" cy="177.2" r="2.15"/>
<circle class="k" cx="116.0" cy="176.1" r="2.15"/>
<circle class="k" cx="117.8" cy="175.7" r="2.15"/>
<circle class="k" cx="116.7" cy="176.2" r="2.15"/>
<circle class="k" cx="118.4" cy="170.6" r="2.15"/>
<circle class="k" cx="119.2" cy="177.2" r="2.15"/>
<circle class="k" cx="119.0" cy="177.4" r="2.15"/>
<circle class="k" cx="120.1" cy="174.0" r="2.15"/>
<circle class="k" cx="121.2" cy="177.5" r="2.15"/>
<circle class="k" cx="121.8" cy="173.7" r="2.15"/>
<circle class="k" cx="122.2" cy="177.3" r="2.15"/>
<circle class="k" cx="121.7" cy="176.4" r="2.15"/>
<circle class="k" cx="124.4" cy="176.2" r="2.15"/>
<circle class="k" cx="124.1" cy="173.0" r="2.15"/>
<circle class="k" cx="123.6" cy="173.2" r="2.15"/>
<circle class="k" cx="124.9" cy="172.0" r="2.15"/>
<circle class="k" cx="126.0" cy="172.4" r="2.15"/>
<circle class="k" cx="124.9" cy="170.8" r="2.15"/>
<circle class="k" cx="127.0" cy="177.6" r="2.15"/>
<circle class="k" cx="127.9" cy="177.7" r="2.15"/>
<circle class="k" cx="126.9" cy="170.8" r="2.15"/>
<circle class="k" cx="129.0" cy="175.4" r="2.15"/>
<circle class="k" cx="128.9" cy="171.5" r="2.15"/>
<circle class="k" cx="128.9" cy="174.7" r="2.15"/>
<circle class="k" cx="131.1" cy="176.4" r="2.15"/>
<circle class="k" cx="131.0" cy="170.0" r="2.15"/>
<circle class="k" cx="131.2" cy="171.5" r="2.15"/>
<circle class="k" cx="130.8" cy="172.2" r="2.15"/>
<circle class="k" cx="131.9" cy="171.7" r="2.15"/>
<circle class="k" cx="132.0" cy="171.0" r="2.15"/>
<circle class="k" cx="133.0" cy="174.4" r="2.15"/>
<circle class="k" cx="133.9" cy="177.7" r="2.15"/>
<circle class="k" cx="134.1" cy="172.3" r="2.15"/>
<circle class="k" cx="134.6" cy="175.3" r="2.15"/>
<circle class="k" cx="135.2" cy="172.4" r="2.15"/>
<circle class="k" cx="136.3" cy="176.2" r="2.15"/>
<circle class="k" cx="136.5" cy="168.0" r="2.15"/>
<circle class="k" cx="135.5" cy="168.8" r="2.15"/>
<circle class="k" cx="138.3" cy="172.3" r="2.15"/>
<circle class="k" cx="138.2" cy="169.5" r="2.15"/>
<circle class="k" cx="138.1" cy="170.5" r="2.15"/>
<circle class="k" cx="137.1" cy="174.9" r="2.15"/>
<circle class="k" cx="138.6" cy="173.7" r="2.15"/>
<circle class="k" cx="139.4" cy="169.9" r="2.15"/>
<circle class="k" cx="139.0" cy="169.2" r="2.15"/>
<circle class="k" cx="138.7" cy="170.3" r="2.15"/>
<circle class="k" cx="141.1" cy="171.1" r="2.15"/>
<circle class="k" cx="140.1" cy="172.1" r="2.15"/>
<circle class="k" cx="141.2" cy="171.0" r="2.15"/>
<circle class="k" cx="142.1" cy="176.1" r="2.15"/>
<circle class="k" cx="142.7" cy="169.9" r="2.15"/>
<circle class="k" cx="142.0" cy="172.7" r="2.15"/>
<circle class="k" cx="144.5" cy="170.2" r="2.15"/>
<circle class="k" cx="143.8" cy="175.2" r="2.15"/>
<circle class="k" cx="144.2" cy="171.8" r="2.15"/>
<circle class="k" cx="146.7" cy="172.0" r="2.15"/>
<circle class="k" cx="146.1" cy="172.4" r="2.15"/>
<circle class="k" cx="145.9" cy="176.7" r="2.15"/>
<circle class="k" cx="147.5" cy="171.1" r="2.15"/>
<circle class="k" cx="148.1" cy="171.1" r="2.15"/>
<circle class="k" cx="146.9" cy="177.0" r="2.15"/>
<circle class="k" cx="147.6" cy="176.3" r="2.15"/>
<circle class="k" cx="150.0" cy="173.1" r="2.15"/>
<circle class="k" cx="148.9" cy="169.2" r="2.15"/>
<circle class="k" cx="149.5" cy="174.6" r="2.15"/>
<circle class="k" cx="150.4" cy="174.3" r="2.15"/>
<circle class="k" cx="150.9" cy="173.2" r="2.15"/>
<circle class="k" cx="150.5" cy="171.2" r="2.15"/>
<circle class="k" cx="151.1" cy="177.1" r="2.15"/>
<circle class="k" cx="152.8" cy="175.9" r="2.15"/>
<circle class="k" cx="153.5" cy="170.0" r="2.15"/>
<circle class="k" cx="152.2" cy="177.2" r="2.15"/>
<circle class="k" cx="154.5" cy="168.4" r="2.15"/>
<circle class="k" cx="155.2" cy="171.7" r="2.15"/>
<circle class="k" cx="155.1" cy="174.0" r="2.15"/>
<circle class="k" cx="155.0" cy="169.4" r="2.15"/>
<circle class="k" cx="155.8" cy="171.9" r="2.15"/>
<circle class="k" cx="156.8" cy="176.1" r="2.15"/>
<circle class="k" cx="155.7" cy="170.1" r="2.15"/>
<circle class="k" cx="156.0" cy="173.0" r="2.15"/>
<circle class="k" cx="157.3" cy="170.4" r="2.15"/>
<circle class="k" cx="158.3" cy="176.8" r="2.15"/>
<circle class="k" cx="157.2" cy="173.5" r="2.15"/>
<circle class="k" cx="158.9" cy="176.2" r="2.15"/>
<circle class="k" cx="159.0" cy="173.9" r="2.15"/>
<circle class="k" cx="159.7" cy="174.2" r="2.15"/>
<circle class="k" cx="159.3" cy="172.1" r="2.15"/>
<circle class="k" cx="161.2" cy="174.5" r="2.15"/>
<circle class="k" cx="161.2" cy="172.4" r="2.15"/>
<circle class="k" cx="160.5" cy="174.1" r="2.15"/>
<circle class="k" cx="161.3" cy="170.4" r="2.15"/>
<circle class="k" cx="163.4" cy="172.6" r="2.15"/>
<circle class="k" cx="162.5" cy="172.7" r="2.15"/>
<circle class="k" cx="162.4" cy="169.4" r="2.15"/>
<circle class="k" cx="162.9" cy="169.1" r="2.15"/>
<circle class="k" cx="164.7" cy="168.7" r="2.15"/>
<circle class="k" cx="164.9" cy="169.1" r="2.15"/>
<circle class="k" cx="165.1" cy="175.7" r="2.15"/>
<circle class="k" cx="165.7" cy="174.6" r="2.15"/>
<circle class="k" cx="166.2" cy="177.5" r="2.15"/>
<circle class="k" cx="165.8" cy="176.9" r="2.15"/>
<circle class="k" cx="168.5" cy="176.9" r="2.15"/>
<circle class="k" cx="167.6" cy="177.7" r="2.15"/>
<circle class="k" cx="168.1" cy="177.6" r="2.15"/>
<circle class="k" cx="169.3" cy="176.7" r="2.15"/>
<circle class="k" cx="170.5" cy="173.1" r="2.15"/>
<circle class="k" cx="169.6" cy="176.6" r="2.15"/>
<circle class="k" cx="172.1" cy="174.2" r="2.15"/>
<circle class="k" cx="172.0" cy="173.6" r="2.15"/>
<circle class="k" cx="173.9" cy="174.2" r="2.15"/>
<circle class="k" cx="172.8" cy="175.5" r="2.15"/>
<circle class="k" cx="174.2" cy="174.3" r="2.15"/>
<circle class="k" cx="174.4" cy="177.5" r="2.15"/>
<circle class="k" cx="177.2" cy="174.8" r="2.15"/>
<circle class="k" cx="177.1" cy="174.6" r="2.15"/>
<circle class="k" cx="178.5" cy="176.1" r="2.15"/>
<circle class="k" cx="178.9" cy="176.6" r="2.15"/>
<circle class="k" cx="180.6" cy="176.3" r="2.15"/>
<circle class="k" cx="180.8" cy="177.2" r="2.15"/>
<circle class="k" cx="189.0" cy="176.9" r="2.15"/>
<circle class="k" cx="190.3" cy="176.5" r="2.15"/>
<circle class="k" cx="190.6" cy="176.6" r="2.15"/>
<circle class="k" cx="192.3" cy="175.0" r="2.15"/>
<circle class="k" cx="192.4" cy="175.6" r="2.15"/>
<circle class="k" cx="194.4" cy="176.4" r="2.15"/>
<circle class="k" cx="193.9" cy="175.5" r="2.15"/>
<circle class="k" cx="194.6" cy="174.5" r="2.15"/>
<circle class="k" cx="195.5" cy="175.6" r="2.15"/>
<circle class="k" cx="197.6" cy="174.1" r="2.15"/>
<circle class="k" cx="196.6" cy="176.3" r="2.15"/>
<circle class="k" cx="197.9" cy="175.2" r="2.15"/>
<circle class="k" cx="198.1" cy="175.2" r="2.15"/>
<circle class="k" cx="200.5" cy="176.7" r="2.15"/>
<circle class="k" cx="210.8" cy="176.9" r="2.15"/>
<circle class="k" cx="213.0" cy="176.1" r="2.15"/>
<circle class="k" cx="216.8" cy="176.6" r="2.15"/>
<circle class="k" cx="218.0" cy="177.1" r="2.15"/>
<circle class="k" cx="218.7" cy="172.3" r="2.15"/>
<circle class="k" cx="219.3" cy="175.3" r="2.15"/>
<circle class="k" cx="221.0" cy="175.5" r="2.15"/>
<circle class="k" cx="221.5" cy="176.7" r="2.15"/>
<circle class="k" cx="223.1" cy="174.5" r="2.15"/>
<circle class="k" cx="222.6" cy="175.7" r="2.15"/>
<circle class="k" cx="223.5" cy="176.7" r="2.15"/>
<circle class="k" cx="223.4" cy="175.5" r="2.15"/>
<circle class="k" cx="225.3" cy="172.3" r="2.15"/>
<circle class="k" cx="226.1" cy="174.4" r="2.15"/>
<circle class="k" cx="226.1" cy="176.5" r="2.15"/>
<circle class="k" cx="227.3" cy="169.5" r="2.15"/>
<circle class="k" cx="226.9" cy="176.5" r="2.15"/>
<circle class="k" cx="228.1" cy="174.4" r="2.15"/>
<circle class="k" cx="226.8" cy="176.0" r="2.15"/>
<circle class="k" cx="229.2" cy="174.4" r="2.15"/>
<circle class="k" cx="229.2" cy="167.7" r="2.15"/>
<circle class="k" cx="228.7" cy="167.8" r="2.15"/>
<circle class="k" cx="228.6" cy="169.2" r="2.15"/>
<circle class="k" cx="229.7" cy="173.8" r="2.15"/>
<circle class="k" cx="231.3" cy="168.3" r="2.15"/>
<circle class="k" cx="231.1" cy="170.5" r="2.15"/>
<circle class="k" cx="231.5" cy="171.6" r="2.15"/>
<circle class="k" cx="230.6" cy="173.1" r="2.15"/>
<circle class="k" cx="231.7" cy="167.6" r="2.15"/>
<circle class="k" cx="231.9" cy="168.9" r="2.15"/>
<circle class="k" cx="232.3" cy="174.7" r="2.15"/>
<circle class="k" cx="233.4" cy="174.8" r="2.15"/>
<circle class="k" cx="232.4" cy="176.4" r="2.15"/>
<circle class="k" cx="232.4" cy="168.7" r="2.15"/>
<circle class="k" cx="234.6" cy="174.4" r="2.15"/>
<circle class="k" cx="234.7" cy="177.6" r="2.15"/>
<circle class="k" cx="234.4" cy="176.0" r="2.15"/>
<circle class="k" cx="234.7" cy="176.2" r="2.15"/>
<circle class="k" cx="236.5" cy="173.5" r="2.15"/>
<circle class="k" cx="235.8" cy="170.0" r="2.15"/>
<circle class="k" cx="236.3" cy="168.6" r="2.15"/>
<circle class="k" cx="236.8" cy="169.3" r="2.15"/>
<circle class="k" cx="237.2" cy="177.2" r="2.15"/>
<circle class="k" cx="237.6" cy="170.0" r="2.15"/>
<circle class="k" cx="237.0" cy="169.1" r="2.15"/>
<circle class="k" cx="239.7" cy="175.3" r="2.15"/>
<circle class="k" cx="239.9" cy="170.1" r="2.15"/>
<circle class="k" cx="239.6" cy="172.5" r="2.15"/>
<circle class="k" cx="241.7" cy="177.1" r="2.15"/>
<circle class="k" cx="240.5" cy="176.9" r="2.15"/>
<circle class="k" cx="241.9" cy="177.4" r="2.15"/>
<circle class="k" cx="242.4" cy="173.3" r="2.15"/>
<circle class="k" cx="242.2" cy="177.0" r="2.15"/>
<circle class="k" cx="244.8" cy="177.2" r="2.15"/>
<circle class="k" cx="244.8" cy="175.2" r="2.15"/>
<circle class="k" cx="245.7" cy="177.1" r="2.15"/>
<circle class="k" cx="247.7" cy="176.6" r="2.15"/>
<circle class="k" cx="249.3" cy="175.1" r="2.15"/>
<circle class="k" cx="250.0" cy="175.5" r="2.15"/>
<circle class="k" cx="252.1" cy="176.2" r="2.15"/>
<circle class="k" cx="252.0" cy="176.5" r="2.15"/>
<circle class="k" cx="253.0" cy="176.4" r="2.15"/>
<circle class="k" cx="254.6" cy="177.3" r="2.15"/>
<circle class="k" cx="254.9" cy="176.5" r="2.15"/>
<circle class="k" cx="255.8" cy="177.5" r="2.15"/>
<circle class="k" cx="256.0" cy="176.3" r="2.15"/>
<circle class="k" cx="258.6" cy="177.8" r="2.15"/>
<circle class="k" cx="259.9" cy="177.0" r="2.15"/>
<circle class="k" cx="261.1" cy="177.0" r="2.15"/>
<circle class="k" cx="261.4" cy="177.5" r="2.15"/>
<circle class="k" cx="264.0" cy="175.9" r="2.15"/>
<circle class="k" cx="262.8" cy="177.0" r="2.15"/>
<circle class="k" cx="264.4" cy="176.3" r="2.15"/>
<circle class="k" cx="264.3" cy="176.9" r="2.15"/>
<circle class="k" cx="267.2" cy="175.9" r="2.15"/>
<circle class="k" cx="266.5" cy="174.8" r="2.15"/>
<circle class="k" cx="266.5" cy="177.3" r="2.15"/>
<circle class="k" cx="269.0" cy="172.2" r="2.15"/>
<circle class="k" cx="267.9" cy="173.6" r="2.15"/>
<circle class="k" cx="270.1" cy="173.7" r="2.15"/>
<circle class="k" cx="270.7" cy="172.8" r="2.15"/>
<circle class="k" cx="270.0" cy="174.7" r="2.15"/>
<circle class="k" cx="272.2" cy="175.3" r="2.15"/>
<circle class="k" cx="271.6" cy="173.0" r="2.15"/>
<circle class="k" cx="271.2" cy="176.7" r="2.15"/>
<circle class="k" cx="273.9" cy="171.3" r="2.15"/>
<circle class="k" cx="273.4" cy="176.0" r="2.15"/>
<circle class="k" cx="273.6" cy="171.0" r="2.15"/>
<circle class="k" cx="275.8" cy="171.4" r="2.15"/>
<circle class="k" cx="274.7" cy="171.9" r="2.15"/>
<circle class="k" cx="275.5" cy="176.5" r="2.15"/>
<circle class="k" cx="276.3" cy="171.9" r="2.15"/>
<circle class="k" cx="276.6" cy="174.1" r="2.15"/>
<circle class="k" cx="276.4" cy="172.6" r="2.15"/>
<circle class="k" cx="279.4" cy="176.1" r="2.15"/>
<circle class="k" cx="278.0" cy="177.6" r="2.15"/>
<circle class="k" cx="280.1" cy="177.7" r="2.15"/>
<circle class="k" cx="280.8" cy="176.3" r="2.15"/>
<circle class="k" cx="281.5" cy="176.0" r="2.15"/>
<circle class="k" cx="281.4" cy="173.8" r="2.15"/>
<circle class="k" cx="283.0" cy="175.0" r="2.15"/>
<circle class="k" cx="284.2" cy="176.4" r="2.15"/>
<circle class="k" cx="285.6" cy="175.5" r="2.15"/>
<circle class="k" cx="284.8" cy="176.1" r="2.15"/>
<circle class="k" cx="287.5" cy="177.4" r="2.15"/>
<circle class="k" cx="287.0" cy="176.1" r="2.15"/>
<circle class="k" cx="288.7" cy="174.6" r="2.15"/>
<circle class="k" cx="289.2" cy="177.3" r="2.15"/>
<circle class="k" cx="290.8" cy="177.1" r="2.15"/>
<circle class="k" cx="290.8" cy="176.0" r="2.15"/>
<circle class="k" cx="290.4" cy="174.4" r="2.15"/>
<circle class="k" cx="291.6" cy="174.5" r="2.15"/>
<circle class="k" cx="292.7" cy="176.2" r="2.15"/>
<circle class="k" cx="292.4" cy="173.6" r="2.15"/>
<circle class="k" cx="293.8" cy="176.0" r="2.15"/>
<circle class="k" cx="293.8" cy="176.2" r="2.15"/>
<circle class="k" cx="295.1" cy="176.4" r="2.15"/>
<circle class="k" cx="296.0" cy="175.3" r="2.15"/>
<circle class="k" cx="295.6" cy="177.7" r="2.15"/>
<circle class="k" cx="297.4" cy="175.1" r="2.15"/>
<circle class="k" cx="299.7" cy="176.6" r="2.15"/>
<circle class="k" cx="298.4" cy="176.8" r="2.15"/>
<circle class="k" cx="301.0" cy="176.9" r="2.15"/>
<circle class="k" cx="300.9" cy="177.5" r="2.15"/>
<circle class="k" cx="302.3" cy="177.7" r="2.15"/>
<circle class="k" cx="306.1" cy="175.0" r="2.15"/>
<circle class="k" cx="306.2" cy="173.7" r="2.15"/>
<circle class="k" cx="307.3" cy="172.2" r="2.15"/>
<circle class="k" cx="307.1" cy="174.2" r="2.15"/>
<circle class="k" cx="306.7" cy="174.3" r="2.15"/>
<circle class="k" cx="309.5" cy="173.8" r="2.15"/>
<circle class="k" cx="308.8" cy="173.0" r="2.15"/>
<circle class="k" cx="309.6" cy="177.4" r="2.15"/>
<circle class="k" cx="310.5" cy="176.5" r="2.15"/>
<circle class="k" cx="310.7" cy="172.7" r="2.15"/>
<circle class="k" cx="310.3" cy="176.3" r="2.15"/>
<circle class="k" cx="312.8" cy="174.3" r="2.15"/>
<circle class="k" cx="312.7" cy="172.7" r="2.15"/>
<circle class="k" cx="313.3" cy="173.5" r="2.15"/>
<circle class="k" cx="314.8" cy="176.6" r="2.15"/>
<circle class="k" cx="314.2" cy="173.3" r="2.15"/>
<circle class="k" cx="314.4" cy="172.2" r="2.15"/>
<circle class="k" cx="315.8" cy="176.9" r="2.15"/>
<circle class="k" cx="315.6" cy="173.9" r="2.15"/>
<circle class="k" cx="315.6" cy="174.2" r="2.15"/>
<circle class="k" cx="316.9" cy="176.1" r="2.15"/>
<circle class="k" cx="317.3" cy="173.3" r="2.15"/>
<circle class="k" cx="319.4" cy="174.5" r="2.15"/>
<circle class="k" cx="319.6" cy="175.8" r="2.15"/>
<circle class="k" cx="321.8" cy="176.7" r="2.15"/>
<circle class="k" cx="320.4" cy="176.4" r="2.15"/>
<circle class="k" cx="321.7" cy="176.1" r="2.15"/>
<circle class="k" cx="323.3" cy="174.2" r="2.15"/>
<circle class="k" cx="322.0" cy="168.2" r="2.15"/>
<circle class="k" cx="323.5" cy="174.5" r="2.15"/>
<circle class="k" cx="323.9" cy="169.5" r="2.15"/>
<circle class="k" cx="324.1" cy="175.6" r="2.15"/>
<circle class="k" cx="324.3" cy="169.6" r="2.15"/>
<circle class="k" cx="326.7" cy="169.7" r="2.15"/>
<circle class="k" cx="326.8" cy="174.0" r="2.15"/>
<circle class="k" cx="326.7" cy="174.6" r="2.15"/>
<circle class="k" cx="326.8" cy="175.7" r="2.15"/>
<circle class="k" cx="327.4" cy="174.8" r="2.15"/>
<circle class="k" cx="327.9" cy="175.3" r="2.15"/>
<circle class="k" cx="327.8" cy="176.7" r="2.15"/>
<circle class="k" cx="328.0" cy="170.7" r="2.15"/>
<circle class="k" cx="329.0" cy="172.9" r="2.15"/>
<circle class="k" cx="328.9" cy="172.6" r="2.15"/>
<circle class="k" cx="329.0" cy="172.9" r="2.15"/>
<circle class="k" cx="331.4" cy="176.5" r="2.15"/>
<circle class="k" cx="330.5" cy="176.3" r="2.15"/>
<circle class="k" cx="331.2" cy="173.6" r="2.15"/>
<circle class="k" cx="331.6" cy="176.3" r="2.15"/>
<circle class="k" cx="332.9" cy="177.4" r="2.15"/>
<circle class="k" cx="332.3" cy="174.4" r="2.15"/>
<circle class="k" cx="333.2" cy="168.7" r="2.15"/>
<circle class="k" cx="335.0" cy="177.2" r="2.15"/>
<circle class="k" cx="334.4" cy="177.6" r="2.15"/>
<circle class="k" cx="334.7" cy="173.0" r="2.15"/>
<circle class="k" cx="335.3" cy="168.9" r="2.15"/>
<circle class="k" cx="336.6" cy="171.8" r="2.15"/>
<circle class="k" cx="337.0" cy="172.1" r="2.15"/>
<circle class="k" cx="336.4" cy="173.5" r="2.15"/>
<circle class="k" cx="336.8" cy="170.6" r="2.15"/>
<circle class="k" cx="338.0" cy="173.8" r="2.15"/>
<circle class="k" cx="338.6" cy="171.5" r="2.15"/>
<circle class="k" cx="338.6" cy="172.5" r="2.15"/>
<circle class="k" cx="339.4" cy="173.5" r="2.15"/>
<circle class="k" cx="340.6" cy="174.8" r="2.15"/>
<circle class="k" cx="340.3" cy="172.0" r="2.15"/>
<circle class="k" cx="341.2" cy="174.7" r="2.15"/>
<circle class="k" cx="341.7" cy="176.2" r="2.15"/>
<circle class="k" cx="340.8" cy="175.7" r="2.15"/>
<circle class="k" cx="343.3" cy="171.8" r="2.15"/>
<circle class="k" cx="342.9" cy="171.5" r="2.15"/>
<circle class="k" cx="342.7" cy="177.3" r="2.15"/>
<circle class="k" cx="345.2" cy="176.7" r="2.15"/>
<circle class="k" cx="345.6" cy="175.8" r="2.15"/>
<circle class="k" cx="346.8" cy="176.3" r="2.15"/>
<circle class="k" cx="346.8" cy="176.2" r="2.15"/>
<circle class="k" cx="348.6" cy="175.2" r="2.15"/>
<circle class="k" cx="348.7" cy="173.5" r="2.15"/>
<circle class="k" cx="349.3" cy="176.7" r="2.15"/>
<circle class="k" cx="350.7" cy="176.2" r="2.15"/>
<circle class="k" cx="352.2" cy="177.5" r="2.15"/>
<circle class="k" cx="366.6" cy="175.5" r="2.15"/>
<circle class="k" cx="366.9" cy="175.5" r="2.15"/>
<circle class="k" cx="368.9" cy="177.4" r="2.15"/>
<circle class="k" cx="368.0" cy="175.1" r="2.15"/>
<circle class="k" cx="368.0" cy="172.2" r="2.15"/>
<circle class="k" cx="370.5" cy="177.2" r="2.15"/>
<circle class="k" cx="370.3" cy="171.1" r="2.15"/>
<circle class="k" cx="370.2" cy="175.0" r="2.15"/>
<circle class="k" cx="372.9" cy="174.8" r="2.15"/>
<circle class="k" cx="372.0" cy="172.7" r="2.15"/>
<circle class="k" cx="372.3" cy="173.3" r="2.15"/>
<circle class="k" cx="373.0" cy="176.8" r="2.15"/>
<circle class="n" cx="42.3" cy="177.4" r="2.15"/>
<circle class="k" cx="41.9" cy="180.9" r="2.15"/>
<circle class="n" cx="44.8" cy="177.7" r="2.15"/>
<circle class="k" cx="44.4" cy="181.3" r="2.15"/>
<circle class="n" cx="48.1" cy="177.4" r="2.15"/>
<circle class="k" cx="48.3" cy="181.2" r="2.15"/>
<circle class="n" cx="50.5" cy="179.3" r="2.15"/>
<circle class="k" cx="50.7" cy="181.0" r="2.15"/>
<circle class="n" cx="53.8" cy="176.9" r="2.15"/>
<circle class="k" cx="53.9" cy="181.0" r="2.15"/>
<circle class="n" cx="56.8" cy="178.5" r="2.15"/>
<circle class="k" cx="56.5" cy="180.9" r="2.15"/>
<circle class="n" cx="60.0" cy="176.1" r="2.15"/>
<circle class="k" cx="59.5" cy="181.0" r="2.15"/>
<circle class="n" cx="63.4" cy="176.9" r="2.15"/>
<circle class="k" cx="63.2" cy="181.0" r="2.15"/>
<circle class="n" cx="66.0" cy="177.0" r="2.15"/>
<circle class="k" cx="66.0" cy="181.3" r="2.15"/>
<circle class="n" cx="68.8" cy="176.4" r="2.15"/>
<circle class="k" cx="68.8" cy="181.0" r="2.15"/>
<circle class="n" cx="71.4" cy="177.3" r="2.15"/>
<circle class="k" cx="71.3" cy="181.0" r="2.15"/>
<circle class="n" cx="74.6" cy="179.5" r="2.15"/>
<circle class="k" cx="74.5" cy="181.0" r="2.15"/>
<circle class="n" cx="78.1" cy="180.8" r="2.15"/>
<circle class="k" cx="78.2" cy="181.2" r="2.15"/>
<circle class="n" cx="80.6" cy="179.0" r="2.15"/>
<circle class="k" cx="80.8" cy="181.0" r="2.15"/>
<circle class="n" cx="83.4" cy="179.1" r="2.15"/>
<circle class="k" cx="83.9" cy="181.0" r="2.15"/>
<circle class="n" cx="86.5" cy="179.2" r="2.15"/>
<circle class="k" cx="86.4" cy="180.9" r="2.15"/>
<circle class="n" cx="89.3" cy="179.8" r="2.15"/>
<circle class="k" cx="89.4" cy="180.9" r="2.15"/>
<circle class="n" cx="92.7" cy="179.2" r="2.15"/>
<circle class="k" cx="92.2" cy="181.2" r="2.15"/>
<circle class="n" cx="95.6" cy="179.6" r="2.15"/>
<circle class="k" cx="95.9" cy="180.9" r="2.15"/>
<circle class="n" cx="98.1" cy="180.0" r="2.15"/>
<circle class="k" cx="98.4" cy="181.0" r="2.15"/>
<circle class="n" cx="101.2" cy="179.1" r="2.15"/>
<circle class="k" cx="101.5" cy="181.0" r="2.15"/>
<circle class="n" cx="104.4" cy="180.2" r="2.15"/>
<circle class="k" cx="104.2" cy="181.3" r="2.15"/>
<circle class="n" cx="107.4" cy="180.0" r="2.15"/>
<circle class="k" cx="107.1" cy="181.0" r="2.15"/>
<circle class="n" cx="111.0" cy="179.1" r="2.15"/>
<circle class="k" cx="111.1" cy="181.0" r="2.15"/>
<circle class="n" cx="113.9" cy="177.4" r="2.15"/>
<circle class="k" cx="113.7" cy="181.0" r="2.15"/>
<circle class="n" cx="117.3" cy="171.8" r="2.15"/>
<circle class="k" cx="116.9" cy="181.0" r="2.15"/>
<circle class="n" cx="120.6" cy="170.2" r="2.15"/>
<circle class="k" cx="120.7" cy="180.9" r="2.15"/>
<circle class="n" cx="124.1" cy="170.6" r="2.15"/>
<circle class="k" cx="124.0" cy="181.1" r="2.15"/>
<circle class="n" cx="126.7" cy="169.9" r="2.15"/>
<circle class="k" cx="126.4" cy="181.0" r="2.15"/>
<circle class="n" cx="129.5" cy="169.4" r="2.15"/>
<circle class="k" cx="129.4" cy="181.1" r="2.15"/>
<circle class="n" cx="132.1" cy="168.8" r="2.15"/>
<circle class="k" cx="132.6" cy="181.2" r="2.15"/>
<circle class="n" cx="134.6" cy="169.9" r="2.15"/>
<circle class="k" cx="134.9" cy="181.2" r="2.15"/>
<circle class="n" cx="137.7" cy="164.5" r="2.15"/>
<circle class="k" cx="137.8" cy="181.3" r="2.15"/>
<circle class="n" cx="140.2" cy="170.2" r="2.15"/>
<circle class="k" cx="140.6" cy="181.1" r="2.15"/>
<circle class="n" cx="143.3" cy="169.0" r="2.15"/>
<circle class="k" cx="143.5" cy="181.1" r="2.15"/>
<circle class="n" cx="146.8" cy="169.8" r="2.15"/>
<circle class="k" cx="147.1" cy="180.9" r="2.15"/>
<circle class="n" cx="149.5" cy="168.3" r="2.15"/>
<circle class="k" cx="149.2" cy="181.2" r="2.15"/>
<circle class="n" cx="152.0" cy="167.6" r="2.15"/>
<circle class="k" cx="152.1" cy="181.0" r="2.15"/>
<circle class="n" cx="155.0" cy="168.6" r="2.15"/>
<circle class="k" cx="155.4" cy="181.3" r="2.15"/>
<circle class="n" cx="158.1" cy="167.8" r="2.15"/>
<circle class="k" cx="157.7" cy="180.9" r="2.15"/>
<circle class="n" cx="160.8" cy="168.2" r="2.15"/>
<circle class="k" cx="160.9" cy="180.9" r="2.15"/>
<circle class="n" cx="164.0" cy="168.1" r="2.15"/>
<circle class="k" cx="163.9" cy="181.2" r="2.15"/>
<circle class="n" cx="167.5" cy="173.6" r="2.15"/>
<circle class="k" cx="167.3" cy="181.3" r="2.15"/>
<circle class="n" cx="170.3" cy="172.6" r="2.15"/>
<circle class="k" cx="170.7" cy="180.9" r="2.15"/>
<circle class="n" cx="173.7" cy="172.6" r="2.15"/>
<circle class="k" cx="173.9" cy="181.0" r="2.15"/>
<circle class="n" cx="176.8" cy="175.1" r="2.15"/>
<circle class="k" cx="176.4" cy="181.2" r="2.15"/>
<circle class="n" cx="180.1" cy="176.9" r="2.15"/>
<circle class="k" cx="180.3" cy="181.2" r="2.15"/>
<circle class="n" cx="183.3" cy="178.2" r="2.15"/>
<circle class="k" cx="182.9" cy="181.2" r="2.15"/>
<circle class="n" cx="186.0" cy="178.2" r="2.15"/>
<circle class="k" cx="185.9" cy="181.2" r="2.15"/>
<circle class="n" cx="188.6" cy="175.9" r="2.15"/>
<circle class="k" cx="188.8" cy="181.3" r="2.15"/>
<circle class="n" cx="191.9" cy="174.4" r="2.15"/>
<circle class="k" cx="191.4" cy="180.9" r="2.15"/>
<circle class="n" cx="194.6" cy="174.9" r="2.15"/>
<circle class="k" cx="194.9" cy="180.9" r="2.15"/>
<circle class="n" cx="197.1" cy="173.4" r="2.15"/>
<circle class="k" cx="196.7" cy="180.9" r="2.15"/>
<circle class="n" cx="200.5" cy="175.6" r="2.15"/>
<circle class="k" cx="200.5" cy="181.2" r="2.15"/>
<circle class="n" cx="203.9" cy="178.7" r="2.15"/>
<circle class="k" cx="204.1" cy="181.2" r="2.15"/>
<circle class="n" cx="206.6" cy="177.4" r="2.15"/>
<circle class="k" cx="206.8" cy="181.1" r="2.15"/>
<circle class="n" cx="209.2" cy="177.7" r="2.15"/>
<circle class="k" cx="208.9" cy="181.1" r="2.15"/>
<circle class="n" cx="211.8" cy="175.1" r="2.15"/>
<circle class="k" cx="212.1" cy="181.2" r="2.15"/>
<circle class="n" cx="214.4" cy="177.7" r="2.15"/>
<circle class="k" cx="214.2" cy="180.9" r="2.15"/>
<circle class="n" cx="216.9" cy="176.1" r="2.15"/>
<circle class="k" cx="216.5" cy="180.9" r="2.15"/>
<circle class="n" cx="220.1" cy="172.6" r="2.15"/>
<circle class="k" cx="220.1" cy="181.2" r="2.15"/>
<circle class="n" cx="222.8" cy="173.5" r="2.15"/>
<circle class="k" cx="222.7" cy="180.9" r="2.15"/>
<circle class="n" cx="226.4" cy="170.2" r="2.15"/>
<circle class="k" cx="226.0" cy="181.2" r="2.15"/>
<circle class="n" cx="229.9" cy="164.1" r="2.15"/>
<circle class="k" cx="230.1" cy="181.2" r="2.15"/>
<circle class="n" cx="233.5" cy="165.5" r="2.15"/>
<circle class="k" cx="233.8" cy="181.2" r="2.15"/>
<circle class="n" cx="236.0" cy="167.0" r="2.15"/>
<circle class="k" cx="236.4" cy="181.1" r="2.15"/>
<circle class="n" cx="238.7" cy="169.0" r="2.15"/>
<circle class="k" cx="239.1" cy="181.2" r="2.15"/>
<circle class="n" cx="241.7" cy="171.0" r="2.15"/>
<circle class="k" cx="241.4" cy="181.0" r="2.15"/>
<circle class="n" cx="245.0" cy="173.8" r="2.15"/>
<circle class="k" cx="244.6" cy="181.3" r="2.15"/>
<circle class="n" cx="248.1" cy="175.7" r="2.15"/>
<circle class="k" cx="247.9" cy="181.2" r="2.15"/>
<circle class="n" cx="251.3" cy="174.8" r="2.15"/>
<circle class="k" cx="251.6" cy="181.1" r="2.15"/>
<circle class="n" cx="253.9" cy="175.1" r="2.15"/>
<circle class="k" cx="254.1" cy="181.1" r="2.15"/>
<circle class="n" cx="257.2" cy="175.6" r="2.15"/>
<circle class="k" cx="257.5" cy="181.2" r="2.15"/>
<circle class="n" cx="260.6" cy="176.9" r="2.15"/>
<circle class="k" cx="260.6" cy="181.3" r="2.15"/>
<circle class="n" cx="264.1" cy="174.4" r="2.15"/>
<circle class="k" cx="264.4" cy="181.2" r="2.15"/>
<circle class="n" cx="266.7" cy="173.4" r="2.15"/>
<circle class="k" cx="266.6" cy="181.2" r="2.15"/>
<circle class="n" cx="269.5" cy="171.7" r="2.15"/>
<circle class="k" cx="269.0" cy="181.1" r="2.15"/>
<circle class="n" cx="272.5" cy="170.4" r="2.15"/>
<circle class="k" cx="272.1" cy="181.0" r="2.15"/>
<circle class="n" cx="275.9" cy="169.7" r="2.15"/>
<circle class="k" cx="275.7" cy="181.0" r="2.15"/>
<circle class="n" cx="278.7" cy="171.8" r="2.15"/>
<circle class="k" cx="278.3" cy="181.0" r="2.15"/>
<circle class="n" cx="282.3" cy="172.8" r="2.15"/>
<circle class="k" cx="282.3" cy="181.1" r="2.15"/>
<circle class="n" cx="285.3" cy="172.7" r="2.15"/>
<circle class="k" cx="285.8" cy="181.2" r="2.15"/>
<circle class="n" cx="287.9" cy="173.4" r="2.15"/>
<circle class="k" cx="287.7" cy="181.0" r="2.15"/>
<circle class="n" cx="290.4" cy="172.3" r="2.15"/>
<circle class="k" cx="290.6" cy="181.2" r="2.15"/>
<circle class="n" cx="292.8" cy="172.6" r="2.15"/>
<circle class="k" cx="292.9" cy="181.1" r="2.15"/>
<circle class="n" cx="296.0" cy="173.3" r="2.15"/>
<circle class="k" cx="296.4" cy="181.0" r="2.15"/>
<circle class="n" cx="298.5" cy="174.5" r="2.15"/>
<circle class="k" cx="298.5" cy="181.1" r="2.15"/>
<circle class="n" cx="301.2" cy="175.6" r="2.15"/>
<circle class="k" cx="301.1" cy="181.2" r="2.15"/>
<circle class="n" cx="304.3" cy="177.7" r="2.15"/>
<circle class="k" cx="304.0" cy="181.1" r="2.15"/>
<circle class="n" cx="307.6" cy="171.3" r="2.15"/>
<circle class="k" cx="307.9" cy="180.9" r="2.15"/>
<circle class="n" cx="310.5" cy="171.2" r="2.15"/>
<circle class="k" cx="310.8" cy="181.1" r="2.15"/>
<circle class="n" cx="313.4" cy="172.0" r="2.15"/>
<circle class="k" cx="313.6" cy="181.2" r="2.15"/>
<circle class="n" cx="316.0" cy="171.3" r="2.15"/>
<circle class="k" cx="316.0" cy="180.9" r="2.15"/>
<circle class="n" cx="319.4" cy="172.7" r="2.15"/>
<circle class="k" cx="319.7" cy="181.0" r="2.15"/>
<circle class="n" cx="321.9" cy="168.4" r="2.15"/>
<circle class="k" cx="322.3" cy="180.9" r="2.15"/>
<circle class="n" cx="324.6" cy="168.0" r="2.15"/>
<circle class="k" cx="324.7" cy="181.2" r="2.15"/>
<circle class="n" cx="327.6" cy="167.4" r="2.15"/>
<circle class="k" cx="327.5" cy="181.1" r="2.15"/>
<circle class="n" cx="330.0" cy="167.5" r="2.15"/>
<circle class="k" cx="330.5" cy="181.0" r="2.15"/>
<circle class="n" cx="333.6" cy="168.7" r="2.15"/>
<circle class="k" cx="333.9" cy="180.9" r="2.15"/>
<circle class="n" cx="337.0" cy="168.1" r="2.15"/>
<circle class="k" cx="337.2" cy="181.2" r="2.15"/>
<circle class="n" cx="340.2" cy="168.9" r="2.15"/>
<circle class="k" cx="340.3" cy="180.9" r="2.15"/>
<circle class="n" cx="343.4" cy="171.2" r="2.15"/>
<circle class="k" cx="343.4" cy="181.1" r="2.15"/>
<circle class="n" cx="346.9" cy="172.6" r="2.15"/>
<circle class="k" cx="346.7" cy="181.0" r="2.15"/>
<circle class="n" cx="349.5" cy="173.2" r="2.15"/>
<circle class="k" cx="349.9" cy="181.1" r="2.15"/>
<circle class="n" cx="352.2" cy="177.0" r="2.15"/>
<circle class="k" cx="352.2" cy="181.2" r="2.15"/>
<circle class="n" cx="354.7" cy="176.5" r="2.15"/>
<circle class="k" cx="354.5" cy="181.1" r="2.15"/>
<circle class="n" cx="357.5" cy="176.7" r="2.15"/>
<circle class="k" cx="357.1" cy="181.1" r="2.15"/>
<circle class="n" cx="360.9" cy="177.3" r="2.15"/>
<circle class="k" cx="361.0" cy="181.0" r="2.15"/>
<circle class="n" cx="363.5" cy="177.4" r="2.15"/>
<circle class="k" cx="363.5" cy="181.1" r="2.15"/>
<circle class="n" cx="366.7" cy="175.3" r="2.15"/>
<circle class="k" cx="366.5" cy="181.2" r="2.15"/>
<circle class="n" cx="369.3" cy="171.2" r="2.15"/>
<circle class="k" cx="369.2" cy="181.1" r="2.15"/>
<circle class="n" cx="371.7" cy="171.4" r="2.15"/>
<circle class="k" cx="372.1" cy="181.2" r="2.15"/>
<circle class="n" cx="374.8" cy="177.3" r="2.15"/>
<circle class="k" cx="374.6" cy="180.9" r="2.15"/>
<circle class="n" cx="377.6" cy="177.7" r="2.15"/>
<circle class="k" cx="377.2" cy="181.3" r="2.15"/>
<circle class="n" cx="45.5" cy="169.5" r="2.15"/>
<circle class="n" cx="47.0" cy="175.2" r="2.15"/>
<circle class="n" cx="54.8" cy="176.0" r="2.15"/>
<circle class="n" cx="60.5" cy="175.5" r="2.15"/>
<circle class="n" cx="67.2" cy="174.8" r="2.15"/>
<circle class="n" cx="71.0" cy="175.5" r="2.15"/>
<circle class="n" cx="84.2" cy="160.8" r="2.15"/>
<circle class="n" cx="82.0" cy="165.8" r="2.15"/>
<circle class="n" cx="83.6" cy="168.6" r="2.15"/>
<circle class="n" cx="83.0" cy="172.0" r="2.15"/>
<circle class="n" cx="82.8" cy="167.3" r="2.15"/>
<circle class="n" cx="83.5" cy="170.5" r="2.15"/>
<circle class="n" cx="92.9" cy="170.0" r="2.15"/>
<circle class="n" cx="101.4" cy="171.0" r="2.15"/>
<circle class="n" cx="105.6" cy="165.2" r="2.15"/>
<circle class="n" cx="115.2" cy="166.2" r="2.15"/>
<circle class="n" cx="113.2" cy="168.8" r="2.15"/>
<circle class="n" cx="113.9" cy="172.0" r="2.15"/>
<circle class="n" cx="137.6" cy="161.3" r="2.15"/>
<circle class="n" cx="117.0" cy="165.5" r="2.15"/>
<circle class="n" cx="121.0" cy="167.5" r="2.15"/>
<circle class="n" cx="125.0" cy="167.0" r="2.15"/>
<circle class="n" cx="129.5" cy="166.5" r="2.15"/>
<circle class="n" cx="133.0" cy="168.0" r="2.15"/>
<circle class="n" cx="141.0" cy="166.5" r="2.15"/>
<circle class="n" cx="145.0" cy="166.0" r="2.15"/>
<circle class="n" cx="149.5" cy="165.8" r="2.15"/>
<circle class="n" cx="153.0" cy="167.0" r="2.15"/>
<circle class="n" cx="156.5" cy="166.8" r="2.15"/>
<circle class="n" cx="160.5" cy="166.5" r="2.15"/>
<circle class="n" cx="169.6" cy="140.8" r="2.15"/>
<circle class="n" cx="165.8" cy="145.2" r="2.15"/>
<circle class="n" cx="164.5" cy="153.0" r="2.15"/>
<circle class="n" cx="168.0" cy="152.5" r="2.15"/>
<circle class="n" cx="171.5" cy="152.5" r="2.15"/>
<circle class="n" cx="175.5" cy="153.0" r="2.15"/>
<circle class="n" cx="180.2" cy="151.5" r="2.15"/>
<circle class="n" cx="184.6" cy="151.3" r="2.15"/>
<circle class="n" cx="173.4" cy="155.7" r="2.15"/>
<circle class="n" cx="175.0" cy="158.7" r="2.15"/>
<circle class="n" cx="172.7" cy="161.0" r="2.15"/>
<circle class="n" cx="174.2" cy="164.0" r="2.15"/>
<circle class="n" cx="171.9" cy="166.3" r="2.15"/>
<circle class="n" cx="175.0" cy="168.6" r="2.15"/>
<circle class="n" cx="172.5" cy="170.5" r="2.15"/>
<circle class="n" cx="174.7" cy="172.2" r="2.15"/>
<circle class="n" cx="187.0" cy="155.7" r="2.15"/>
<circle class="n" cx="184.0" cy="159.5" r="2.15"/>
<circle class="n" cx="183.3" cy="162.0" r="2.15"/>
<circle class="n" cx="177.7" cy="170.7" r="2.15"/>
<circle class="n" cx="180.7" cy="174.5" r="2.15"/>
<circle class="n" cx="177.0" cy="176.8" r="2.15"/>
<circle class="n" cx="186.0" cy="177.5" r="2.15"/>
<circle class="n" cx="200.9" cy="157.4" r="2.15"/>
<circle class="n" cx="199.1" cy="159.7" r="2.15"/>
<circle class="n" cx="203.9" cy="158.0" r="2.15"/>
<circle class="n" cx="205.7" cy="161.0" r="2.15"/>
<circle class="n" cx="201.5" cy="161.5" r="2.15"/>
<circle class="n" cx="208.1" cy="163.3" r="2.15"/>
<circle class="n" cx="209.3" cy="166.9" r="2.15"/>
<circle class="n" cx="208.7" cy="169.9" r="2.15"/>
<circle class="n" cx="192.0" cy="170.5" r="2.15"/>
<circle class="n" cx="198.0" cy="168.7" r="2.15"/>
<circle class="n" cx="195.6" cy="171.7" r="2.15"/>
<circle class="n" cx="189.6" cy="173.5" r="2.15"/>
<circle class="n" cx="200.3" cy="171.7" r="2.15"/>
<circle class="n" cx="211.7" cy="171.7" r="2.15"/>
<circle class="n" cx="214.0" cy="170.0" r="2.15"/>
<circle class="n" cx="229.5" cy="159.5" r="2.15"/>
<circle class="n" cx="233.5" cy="159.5" r="2.15"/>
<circle class="n" cx="228.8" cy="162.9" r="2.15"/>
<circle class="n" cx="231.5" cy="164.9" r="2.15"/>
<circle class="n" cx="237.6" cy="164.9" r="2.15"/>
<circle class="n" cx="240.3" cy="166.9" r="2.15"/>
<circle class="n" cx="238.3" cy="168.3" r="2.15"/>
<circle class="n" cx="243.0" cy="171.0" r="2.15"/>
<circle class="n" cx="246.4" cy="173.0" r="2.15"/>
<circle class="n" cx="249.8" cy="171.0" r="2.15"/>
<circle class="n" cx="224.0" cy="170.3" r="2.15"/>
<circle class="n" cx="265.5" cy="171.0" r="2.15"/>
<circle class="n" cx="278.4" cy="168.0" r="2.15"/>
<circle class="n" cx="306.4" cy="159.0" r="2.15"/>
<circle class="n" cx="321.5" cy="160.6" r="2.15"/>
<circle class="n" cx="322.3" cy="159.8" r="2.15"/>
<circle class="n" cx="327.6" cy="162.9" r="2.15"/>
<circle class="n" cx="332.9" cy="166.0" r="2.15"/>
<circle class="n" cx="336.0" cy="166.7" r="2.15"/>
<circle class="n" cx="368.6" cy="170.5" r="2.15"/>
<circle class="n" cx="371.4" cy="170.5" r="2.15"/>
<circle class="n" cx="370.0" cy="169.0" r="2.15"/>
<circle class="o" cx="176.8" cy="52.4" r="2.15"/>
<circle class="r" cx="176.1" cy="34.8" r="2.15"/>
<circle class="r" cx="179.5" cy="36.1" r="2.15"/>
<circle class="r" cx="183.6" cy="34.8" r="2.15"/>
<circle class="r" cx="186.3" cy="36.1" r="2.15"/>
<circle class="r" cx="187.2" cy="38.8" r="2.15"/>
<circle class="r" cx="175.5" cy="38.2" r="2.15"/>
<circle class="r" cx="178.2" cy="39.5" r="2.15"/>
<circle class="r" cx="185.6" cy="40.9" r="2.15"/>
<circle class="r" cx="184.3" cy="38.2" r="2.15"/>
<circle class="r" cx="176.1" cy="42.2" r="2.15"/>
<circle class="r" cx="176.8" cy="45.6" r="2.15"/>
<circle class="r" cx="184.3" cy="45.0" r="2.15"/>
<circle class="r" cx="183.6" cy="48.3" r="2.15"/>
<circle class="r" cx="182.2" cy="51.0" r="2.15"/>
<circle class="r" cx="178.2" cy="47.5" r="2.15"/>
<circle class="r" cx="179.0" cy="50.5" r="2.15"/>
<circle class="r" cx="181.0" cy="47.0" r="2.15"/>
<circle class="r" cx="175.3" cy="56.5" r="2.15"/>
<circle class="r" cx="178.8" cy="57.1" r="2.15"/>
<circle class="r" cx="182.2" cy="56.5" r="2.15"/>
<circle class="r" cx="183.6" cy="53.7" r="2.15"/>
<circle class="r" cx="180.9" cy="54.4" r="2.15"/>
<circle class="r" cx="185.0" cy="42.5" r="2.15"/>
<circle class="r" cx="180.8" cy="38.2" r="2.15"/>
<circle class="r" cx="181.5" cy="40.5" r="2.15"/>
<circle class="r" cx="179.5" cy="44.0" r="2.15"/>
<circle class="r" cx="182.0" cy="44.5" r="2.15"/>
<circle class="r" cx="182.5" cy="65.0" r="2.15"/>
<circle class="o" cx="179.8" cy="68.6" r="2.15"/>
<circle class="o" cx="185.2" cy="66.8" r="2.15"/>
<circle class="m" cx="178.0" cy="47.2" r="2.15"/>
<circle class="m" cx="178.4" cy="49.8" r="2.15"/>
<path d="M180.6,41.3 L182.8,43.6 L180.6,45.9 L178.4,43.6 Z" fill="#6c3aa8" stroke="#3a1a60" stroke-width="0.5"/>
<circle class="g" cx="175.7" cy="98.9" r="2.15"/>
<circle class="g" cx="178.3" cy="100.6" r="2.15"/>
<circle class="g" cx="185.3" cy="99.6" r="2.15"/>
<circle class="g" cx="186.6" cy="102.3" r="2.15"/>
<circle class="g" cx="182.8" cy="105.8" r="2.15"/>
<circle class="o" cx="180.8" cy="102.1" r="2.15"/>
<circle class="b" cx="176.1" cy="106.6" r="2.15"/>
<circle class="b" cx="183.8" cy="118.0" r="2.15"/>
<rect x="41" y="13.3" width="340" height="176.3" fill="none" stroke="#000" stroke-width="1.3"/>
<rect x="41" y="198" width="340" height="27.3" fill="none" stroke="#000" stroke-width="1.3"/>
<line x1="36.2" y1="181.5" x2="41" y2="181.5" stroke="#000" stroke-width="1"/>
<text x="34.5" y="183.9" font-size="6.8" text-anchor="end" font-family="Liberation Sans, sans-serif" fill="#111">0</text>
<line x1="36.2" y1="125.0" x2="41" y2="125.0" stroke="#000" stroke-width="1"/>
<text x="34.5" y="127.4" font-size="6.8" text-anchor="end" font-family="Liberation Sans, sans-serif" fill="#111">5</text>
<line x1="36.2" y1="68.5" x2="41" y2="68.5" stroke="#000" stroke-width="1"/>
<text x="34.5" y="70.9" font-size="6.8" text-anchor="end" font-family="Liberation Sans, sans-serif" fill="#111">10</text>
<text transform="translate(18.3,102) rotate(-90)" font-size="7.2" text-anchor="middle" font-family="Liberation Sans, sans-serif" fill="#111">– log<tspan font-size="4.6" dy="1.6">10</tspan><tspan dy="-1.6">(p–value)</tspan></text>
<line x1="381" y1="181.3" x2="384.5" y2="181.3" stroke="#000" stroke-width="1"/>
<text x="389" y="183.70000000000002" font-size="6.8" font-family="Liberation Sans, sans-serif" fill="#4d54a6" class="bl">0</text>
<line x1="381" y1="149.3" x2="384.5" y2="149.3" stroke="#000" stroke-width="1"/>
<text x="389" y="151.70000000000002" font-size="6.8" font-family="Liberation Sans, sans-serif" fill="#4d54a6" class="bl">20</text>
<line x1="381" y1="117.30000000000001" x2="384.5" y2="117.30000000000001" stroke="#000" stroke-width="1"/>
<text x="389" y="119.70000000000002" font-size="6.8" font-family="Liberation Sans, sans-serif" fill="#4d54a6" class="bl">40</text>
<line x1="381" y1="85.30000000000001" x2="384.5" y2="85.30000000000001" stroke="#000" stroke-width="1"/>
<text x="389" y="87.70000000000002" font-size="6.8" font-family="Liberation Sans, sans-serif" fill="#4d54a6" class="bl">60</text>
<line x1="381" y1="53.30000000000001" x2="384.5" y2="53.30000000000001" stroke="#000" stroke-width="1"/>
<text x="389" y="55.70000000000001" font-size="6.8" font-family="Liberation Sans, sans-serif" fill="#4d54a6" class="bl">80</text>
<line x1="381" y1="21.30000000000001" x2="384.5" y2="21.30000000000001" stroke="#000" stroke-width="1"/>
<text x="389" y="23.70000000000001" font-size="6.8" font-family="Liberation Sans, sans-serif" fill="#4d54a6" class="bl">100</text>
<text transform="translate(403.2,98) rotate(90)" font-size="6.6" text-anchor="middle" font-family="Liberation Sans, sans-serif" fill="#4d54a6" class="bl">Recombination rate (cM/Mb)</text>
<text x="182" y="27.6" font-size="7.2" text-anchor="middle" font-family="Liberation Sans, sans-serif" fill="#111">rs9939609</text>
<rect x="348.8" y="16.8" width="28" height="66.4" fill="#fff" stroke="#aaa" stroke-width="0.8"/>
<text x="360.5" y="26" font-size="7.6" font-family="Liberation Sans, sans-serif" fill="#111">r<tspan font-size="4.6" dy="-3">2</tspan></text>
<rect x="352.5" y="29.00" width="7.2" height="10.5" fill="#dc1a1e"/>
<rect x="352.5" y="39.45" width="7.2" height="10.5" fill="#f2a12c"/>
<rect x="352.5" y="49.90" width="7.2" height="10.5" fill="#5db446"/>
<rect x="352.5" y="60.35" width="7.2" height="10.5" fill="#9fd1f2"/>
<rect x="352.5" y="70.80" width="7.2" height="10.5" fill="#1f2266"/>
<line x1="359.7" y1="39.45" x2="362.2" y2="39.45" stroke="#222" stroke-width="0.7"/>
<text x="365.2" y="41.65" font-size="6.2" font-family="Liberation Sans, sans-serif" fill="#111">0.8</text>
<line x1="359.7" y1="49.90" x2="362.2" y2="49.90" stroke="#222" stroke-width="0.7"/>
<text x="365.2" y="52.10" font-size="6.2" font-family="Liberation Sans, sans-serif" fill="#111">0.6</text>
<line x1="359.7" y1="60.35" x2="362.2" y2="60.35" stroke="#222" stroke-width="0.7"/>
<text x="365.2" y="62.55" font-size="6.2" font-family="Liberation Sans, sans-serif" fill="#111">0.4</text>
<line x1="359.7" y1="70.80" x2="362.2" y2="70.80" stroke="#222" stroke-width="0.7"/>
<text x="365.2" y="73.00" font-size="6.2" font-family="Liberation Sans, sans-serif" fill="#111">0.2</text>
<line x1="80.2" y1="225.3" x2="80.2" y2="229.8" stroke="#000" stroke-width="1"/>
<text x="80.2" y="238.7" font-size="7.3" text-anchor="middle" font-family="Liberation Sans, sans-serif" fill="#111">53.4</text>
<line x1="128.3" y1="225.3" x2="128.3" y2="229.8" stroke="#000" stroke-width="1"/>
<text x="128.3" y="238.7" font-size="7.3" text-anchor="middle" font-family="Liberation Sans, sans-serif" fill="#111">53.6</text>
<line x1="176.4" y1="225.3" x2="176.4" y2="229.8" stroke="#000" stroke-width="1"/>
<text x="176.4" y="238.7" font-size="7.3" text-anchor="middle" font-family="Liberation Sans, sans-serif" fill="#111">53.8</text>
<line x1="224.5" y1="225.3" x2="224.5" y2="229.8" stroke="#000" stroke-width="1"/>
<text x="224.5" y="238.7" font-size="7.3" text-anchor="middle" font-family="Liberation Sans, sans-serif" fill="#111">54</text>
<line x1="272.6" y1="225.3" x2="272.6" y2="229.8" stroke="#000" stroke-width="1"/>
<text x="272.6" y="238.7" font-size="7.3" text-anchor="middle" font-family="Liberation Sans, sans-serif" fill="#111">54.2</text>
<line x1="320.7" y1="225.3" x2="320.7" y2="229.8" stroke="#000" stroke-width="1"/>
<text x="320.7" y="238.7" font-size="7.3" text-anchor="middle" font-family="Liberation Sans, sans-serif" fill="#111">54.4</text>
<line x1="368.8" y1="225.3" x2="368.8" y2="229.8" stroke="#000" stroke-width="1"/>
<text x="368.8" y="238.7" font-size="7.3" text-anchor="middle" font-family="Liberation Sans, sans-serif" fill="#111">54.6</text>
<text x="211.3" y="248.8" font-size="7.1" text-anchor="middle" font-family="Liberation Sans, sans-serif" fill="#111">Position on chr16 (Mb)</text>
<text x="43.2" y="205" font-size="6.1" font-family="Liberation Sans, sans-serif" font-style="italic" stroke="#111" stroke-width="0.28" fill="#111">CHD9</text>
<text x="93" y="205.4" font-size="6.1" font-family="Liberation Sans, sans-serif" font-style="italic" stroke="#111" stroke-width="0.28" fill="#111">RBL2</text>
<text x="106.6" y="218.8" font-size="6.1" font-family="Liberation Sans, sans-serif" font-style="italic" stroke="#111" stroke-width="0.28" fill="#111">AKTIP</text>
<text x="137" y="205.6" font-size="6.1" font-family="Liberation Sans, sans-serif" font-style="italic" stroke="#111" stroke-width="0.28" fill="#111">RPGRIP1L</text>
<text x="202.2" y="218.8" font-size="6.1" font-family="Liberation Sans, sans-serif" font-style="italic" stroke="#111" stroke-width="0.28" fill="#111">FTO</text>
<text x="297.5" y="205.4" font-size="6.1" font-family="Liberation Sans, sans-serif" font-style="italic" stroke="#111" stroke-width="0.28" fill="#111">IRX3</text>
<line x1="60" y1="202.9" x2="66.4" y2="202.9" stroke="#111" stroke-width="0.6"/>
<path d="M66.4,202.9 l-2,-1.1 l0,2.2 z" fill="#111"/>
<line x1="109" y1="202.9" x2="115" y2="202.9" stroke="#111" stroke-width="0.6"/>
<path d="M115,202.9 l-2,-1.1 l0,2.2 z" fill="#111"/>
<line x1="99.3" y1="216.3" x2="105.5" y2="216.3" stroke="#111" stroke-width="0.6"/>
<path d="M99.3,216.3 l2,-1.1 l0,2.2 z" fill="#111"/>
<line x1="129.8" y1="203.2" x2="136" y2="203.2" stroke="#111" stroke-width="0.6"/>
<path d="M129.8,203.2 l2,-1.1 l0,2.2 z" fill="#111"/>
<line x1="214" y1="216.3" x2="220.5" y2="216.3" stroke="#111" stroke-width="0.6"/>
<path d="M220.5,216.3 l-2,-1.1 l0,2.2 z" fill="#111"/>
<line x1="291.2" y1="203" x2="297" y2="203" stroke="#111" stroke-width="0.6"/>
<path d="M291.2,203 l2,-1.1 l0,2.2 z" fill="#111"/>
<rect x="42.3" y="206.47" width="28.60" height="1.45" fill="#a8a8d6"/>
<rect x="42.5" y="206.47" width="1.10" height="1.45" fill="#4a4aa0"/>
<rect x="46" y="206.47" width="2.00" height="1.45" fill="#4a4aa0"/>
<rect x="50" y="206.47" width="4.00" height="1.45" fill="#4a4aa0"/>
<rect x="56" y="206.47" width="2.00" height="1.45" fill="#4a4aa0"/>
<rect x="60.5" y="206.47" width="3.00" height="1.45" fill="#4a4aa0"/>
<rect x="65" y="206.47" width="1.50" height="1.45" fill="#4a4aa0"/>
<rect x="68" y="206.47" width="2.50" height="1.45" fill="#4a4aa0"/>
<rect x="96.4" y="206.68" width="14.00" height="1.45" fill="#a8a8d6"/>
<rect x="97" y="206.68" width="1.50" height="1.45" fill="#4a4aa0"/>
<rect x="102.5" y="206.68" width="3.10" height="1.45" fill="#4a4aa0"/>
<rect x="108.2" y="206.68" width="2.20" height="1.45" fill="#4a4aa0"/>
<rect x="110.9" y="219.9" width="2.4" height="1.6" fill="#7070b8"/>
<rect x="135.9" y="206.97" width="25.80" height="1.45" fill="#a8a8d6"/>
<rect x="137" y="206.97" width="1.50" height="1.45" fill="#4a4aa0"/>
<rect x="140" y="206.97" width="1.00" height="1.45" fill="#4a4aa0"/>
<rect x="144.6" y="206.97" width="6.40" height="1.45" fill="#4a4aa0"/>
<rect x="152" y="206.97" width="1.90" height="1.45" fill="#4a4aa0"/>
<rect x="156.3" y="206.97" width="1.20" height="1.45" fill="#4a4aa0"/>
<rect x="159" y="206.97" width="2.70" height="1.45" fill="#4a4aa0"/>
<rect x="300.6" y="206.20" width="1.20" height="2.2" fill="#a8a8d6"/>
<rect x="300.6" y="206.20" width="1.20" height="2.2" fill="#4a4aa0"/>
<line x1="161.3" y1="221.1" x2="260.4" y2="221.1" stroke="#c4c4dc" stroke-width="0.9"/>
<rect x="160.85" y="220.4" width="1.1" height="1.5" fill="#6a6a8a"/>
<rect x="185.75" y="220.4" width="1.1" height="1.5" fill="#6a6a8a"/>
<rect x="190.14999999999998" y="220.4" width="1.1" height="1.5" fill="#6a6a8a"/>
<rect x="194.35" y="220.4" width="1.1" height="1.5" fill="#6a6a8a"/>
<rect x="202.25" y="220.4" width="1.1" height="1.5" fill="#6a6a8a"/>
<rect x="204.85" y="220.4" width="1.1" height="1.5" fill="#6a6a8a"/>
<rect x="215.95" y="220.4" width="1.1" height="1.5" fill="#6a6a8a"/>
<rect x="259.45" y="220.4" width="1.1" height="1.5" fill="#6a6a8a"/>
</svg>
</body></html>
